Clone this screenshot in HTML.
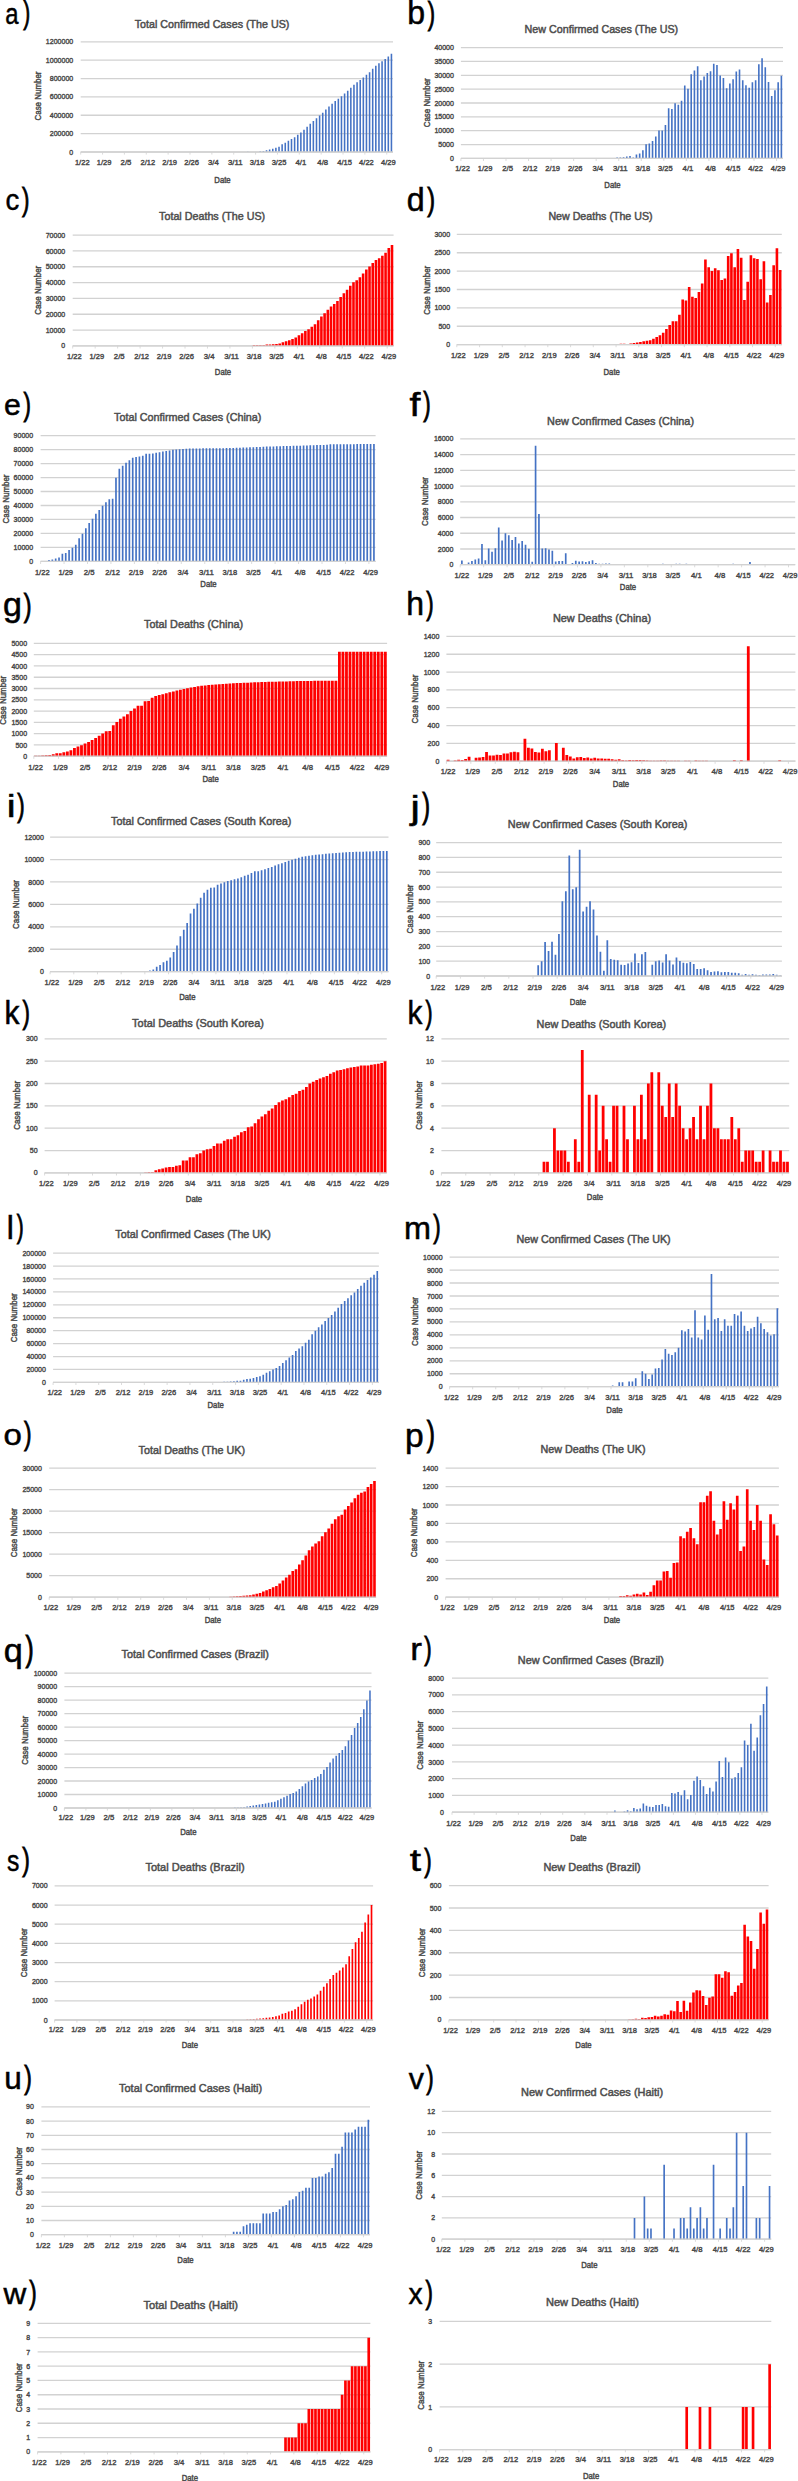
<!DOCTYPE html>
<html><head><meta charset="utf-8"><title>COVID-19 charts</title>
<style>
html,body{margin:0;padding:0;background:#fff;}
svg{display:block;}
text{font-family:"Liberation Sans",sans-serif;}
.t{font-size:8.1px;fill:#4a4a4a;stroke:#4a4a4a;stroke-width:0.42px;}
.a{font-size:8.2px;fill:#4a4a4a;stroke:#4a4a4a;stroke-width:0.42px;}
.h{font-size:11.5px;fill:#4a4a4a;stroke:#505050;stroke-width:0.5px;}
.l{font-size:31px;fill:#000;stroke:#000;stroke-width:0.5px;}
.l2{font-size:31px;fill:#000;stroke:#000;stroke-width:0.9px;}
</style></head><body>
<svg width="798" height="2481" viewBox="0 0 798 2481">
<rect width="798" height="2481" fill="#fff"/>
<path d="M80.7 152H393M80.7 133.63H393M80.7 115.27H393M80.7 96.9H393M80.7 78.53H393M80.7 60.17H393M80.7 41.8H393" stroke="#D2D2D2" stroke-width="1.3" fill="none"/>
<path d="M80.7 152v2.6M102.56 152v2.6M124.42 152v2.6M146.28 152v2.6M168.14 152v2.6M190 152v2.6M211.87 152v2.6M233.73 152v2.6M255.59 152v2.6M277.45 152v2.6M299.31 152v2.6M321.17 152v2.6M343.03 152v2.6M364.89 152v2.6M386.75 152v2.6" stroke="#D2D2D2" stroke-width="0.8" fill="none"/>
<path d="M247 152h1.56v-0.33h-1.56zM259.49 152h1.56v-0.73h-1.56zM262.61 152h1.56v-0.92h-1.56zM265.74 152h1.56v-1.84h-1.56zM268.86 152h1.56v-2.39h-1.56zM271.98 152h1.56v-3.31h-1.56zM275.11 152h1.56v-4.22h-1.56zM278.23 152h1.56v-5.33h-1.56zM281.35 152h1.56v-7.7h-1.56zM284.48 152h1.56v-9.34h-1.56zM287.6 152h1.56v-11.15h-1.56zM290.72 152h1.56v-12.94h-1.56zM293.84 152h1.56v-14.86h-1.56zM296.97 152h1.56v-17.28h-1.56zM300.09 152h1.56v-19.58h-1.56zM303.21 152h1.56v-22.37h-1.56zM306.34 152h1.56v-25.29h-1.56zM309.46 152h1.56v-28.34h-1.56zM312.58 152h1.56v-30.93h-1.56zM315.71 152h1.56v-33.64h-1.56zM318.83 152h1.56v-36.47h-1.56zM321.95 152h1.56v-39.36h-1.56zM325.07 152h1.56v-42.5h-1.56zM328.2 152h1.56v-45.6h-1.56zM331.32 152h1.56v-48.34h-1.56zM334.44 152h1.56v-51h-1.56zM337.57 152h1.56v-53.32h-1.56zM340.69 152h1.56v-55.8h-1.56zM343.81 152h1.56v-58.44h-1.56zM346.94 152h1.56v-61.33h-1.56zM350.06 152h1.56v-64.26h-1.56zM353.18 152h1.56v-67.24h-1.56zM356.3 152h1.56v-69.68h-1.56zM359.43 152h1.56v-72.03h-1.56zM362.55 152h1.56v-74.56h-1.56zM365.67 152h1.56v-77.17h-1.56zM368.8 152h1.56v-79.82h-1.56zM371.92 152h1.56v-83.14h-1.56zM375.04 152h1.56v-86.15h-1.56zM378.17 152h1.56v-88.69h-1.56zM381.29 152h1.56v-90.75h-1.56zM384.41 152h1.56v-92.99h-1.56zM387.53 152h1.56v-95.5h-1.56zM390.66 152h1.56v-98.21h-1.56z" fill="#4472C4"/>
<path d="M80.7 152H393" stroke="#D2D2D2" stroke-width="1.3" fill="none"/>
<text x="69.3" y="154.59" class="t" textLength="3.9" lengthAdjust="spacingAndGlyphs">0</text>
<text x="49.78" y="136.23" class="t" textLength="23.42" lengthAdjust="spacingAndGlyphs">200000</text>
<text x="49.78" y="117.86" class="t" textLength="23.42" lengthAdjust="spacingAndGlyphs">400000</text>
<text x="49.78" y="99.49" class="t" textLength="23.42" lengthAdjust="spacingAndGlyphs">600000</text>
<text x="49.78" y="81.13" class="t" textLength="23.42" lengthAdjust="spacingAndGlyphs">800000</text>
<text x="45.87" y="62.76" class="t" textLength="27.33" lengthAdjust="spacingAndGlyphs">1000000</text>
<text x="45.87" y="44.39" class="t" textLength="27.33" lengthAdjust="spacingAndGlyphs">1200000</text>
<text x="74.92" y="164.92" class="t" textLength="14.68" lengthAdjust="spacingAndGlyphs">1/22</text>
<text x="96.78" y="164.92" class="t" textLength="14.68" lengthAdjust="spacingAndGlyphs">1/29</text>
<text x="120.59" y="164.92" class="t" textLength="10.78" lengthAdjust="spacingAndGlyphs">2/5</text>
<text x="140.5" y="164.92" class="t" textLength="14.68" lengthAdjust="spacingAndGlyphs">2/12</text>
<text x="162.36" y="164.92" class="t" textLength="14.68" lengthAdjust="spacingAndGlyphs">2/19</text>
<text x="184.22" y="164.92" class="t" textLength="14.68" lengthAdjust="spacingAndGlyphs">2/26</text>
<text x="208.04" y="164.92" class="t" textLength="10.78" lengthAdjust="spacingAndGlyphs">3/4</text>
<text x="227.95" y="164.92" class="t" textLength="14.68" lengthAdjust="spacingAndGlyphs">3/11</text>
<text x="249.81" y="164.92" class="t" textLength="14.68" lengthAdjust="spacingAndGlyphs">3/18</text>
<text x="271.67" y="164.92" class="t" textLength="14.68" lengthAdjust="spacingAndGlyphs">3/25</text>
<text x="295.48" y="164.92" class="t" textLength="10.78" lengthAdjust="spacingAndGlyphs">4/1</text>
<text x="317.34" y="164.92" class="t" textLength="10.78" lengthAdjust="spacingAndGlyphs">4/8</text>
<text x="337.25" y="164.92" class="t" textLength="14.68" lengthAdjust="spacingAndGlyphs">4/15</text>
<text x="359.11" y="164.92" class="t" textLength="14.68" lengthAdjust="spacingAndGlyphs">4/22</text>
<text x="380.97" y="164.92" class="t" textLength="14.68" lengthAdjust="spacingAndGlyphs">4/29</text>
<text x="214.35" y="182.55" class="a" textLength="16.3" lengthAdjust="spacingAndGlyphs">Date</text>
<text transform="translate(37.6 96) rotate(-90)" x="-24.5" y="2.95" class="a" textLength="49" lengthAdjust="spacingAndGlyphs">Case Number</text>
<text x="134.7" y="28" class="h" textLength="154.7" lengthAdjust="spacingAndGlyphs">Total Confirmed Cases (The US)</text>
<text transform="translate(5.24 23.51) scale(0.7693 0.9598)" class="l">a</text>
<text transform="translate(23.28 22.81) scale(0.6692 1.0111)" class="l2">)</text>
<path d="M460.9 158.4H783M460.9 144.55H783M460.9 130.7H783M460.9 116.85H783M460.9 103H783M460.9 89.15H783M460.9 75.3H783M460.9 61.45H783M460.9 47.6H783" stroke="#D2D2D2" stroke-width="1.3" fill="none"/>
<path d="M460.9 158.4v2.6M483.45 158.4v2.6M505.99 158.4v2.6M528.54 158.4v2.6M551.09 158.4v2.6M573.63 158.4v2.6M596.18 158.4v2.6M618.73 158.4v2.6M641.28 158.4v2.6M663.82 158.4v2.6M686.37 158.4v2.6M708.92 158.4v2.6M731.46 158.4v2.6M754.01 158.4v2.6M776.56 158.4v2.6" stroke="#D2D2D2" stroke-width="0.8" fill="none"/>
<path d="M606.65 158.4h1.61v-0.33h-1.61zM613.09 158.4h1.61v-0.44h-1.61zM616.31 158.4h1.61v-0.8h-1.61zM619.53 158.4h1.61v-0.97h-1.61zM622.76 158.4h1.61v-1.25h-1.61zM625.98 158.4h1.61v-1.94h-1.61zM629.2 158.4h1.61v-2.49h-1.61zM632.42 158.4h1.61v-0.83h-1.61zM635.64 158.4h1.61v-3.88h-1.61zM638.86 158.4h1.61v-4.99h-1.61zM642.08 158.4h1.61v-8.03h-1.61zM645.3 158.4h1.61v-14.13h-1.61zM648.52 158.4h1.61v-14.96h-1.61zM651.74 158.4h1.61v-17.45h-1.61zM654.97 158.4h1.61v-21.88h-1.61zM658.19 158.4h1.61v-27.98h-1.61zM661.41 158.4h1.61v-27.98h-1.61zM664.63 158.4h1.61v-33.52h-1.61zM667.85 158.4h1.61v-50.14h-1.61zM671.07 158.4h1.61v-49.31h-1.61zM674.29 158.4h1.61v-55.12h-1.61zM677.51 158.4h1.61v-53.74h-1.61zM680.73 158.4h1.61v-57.62h-1.61zM683.95 158.4h1.61v-72.85h-1.61zM687.18 158.4h1.61v-69.53h-1.61zM690.4 158.4h1.61v-84.21h-1.61zM693.62 158.4h1.61v-87.81h-1.61zM696.84 158.4h1.61v-92.24h-1.61zM700.06 158.4h1.61v-78.11h-1.61zM703.28 158.4h1.61v-81.99h-1.61zM706.5 158.4h1.61v-85.32h-1.61zM709.72 158.4h1.61v-87.26h-1.61zM712.94 158.4h1.61v-94.73h-1.61zM716.16 158.4h1.61v-93.35h-1.61zM719.39 158.4h1.61v-82.82h-1.61zM722.61 158.4h1.61v-80.33h-1.61zM725.83 158.4h1.61v-70.08h-1.61zM729.05 158.4h1.61v-74.79h-1.61zM732.27 158.4h1.61v-79.22h-1.61zM735.49 158.4h1.61v-86.98h-1.61zM738.71 158.4h1.61v-88.92h-1.61zM741.93 158.4h1.61v-78.11h-1.61zM745.15 158.4h1.61v-73.13h-1.61zM748.37 158.4h1.61v-70.64h-1.61zM751.6 158.4h1.61v-76.18h-1.61zM754.82 158.4h1.61v-78.11h-1.61zM758.04 158.4h1.61v-94.18h-1.61zM761.26 158.4h1.61v-100.27h-1.61zM764.48 158.4h1.61v-91.13h-1.61zM767.7 158.4h1.61v-76.45h-1.61zM770.92 158.4h1.61v-62.33h-1.61zM774.14 158.4h1.61v-68.14h-1.61zM777.36 158.4h1.61v-76.18h-1.61zM780.58 158.4h1.61v-82.55h-1.61z" fill="#4472C4"/>
<path d="M460.9 158.4H783" stroke="#D2D2D2" stroke-width="1.3" fill="none"/>
<text x="450" y="160.99" class="t" textLength="3.9" lengthAdjust="spacingAndGlyphs">0</text>
<text x="438.28" y="147.14" class="t" textLength="15.62" lengthAdjust="spacingAndGlyphs">5000</text>
<text x="434.38" y="133.29" class="t" textLength="19.52" lengthAdjust="spacingAndGlyphs">10000</text>
<text x="434.38" y="119.44" class="t" textLength="19.52" lengthAdjust="spacingAndGlyphs">15000</text>
<text x="434.38" y="105.59" class="t" textLength="19.52" lengthAdjust="spacingAndGlyphs">20000</text>
<text x="434.38" y="91.74" class="t" textLength="19.52" lengthAdjust="spacingAndGlyphs">25000</text>
<text x="434.38" y="77.89" class="t" textLength="19.52" lengthAdjust="spacingAndGlyphs">30000</text>
<text x="434.38" y="64.04" class="t" textLength="19.52" lengthAdjust="spacingAndGlyphs">35000</text>
<text x="434.38" y="50.19" class="t" textLength="19.52" lengthAdjust="spacingAndGlyphs">40000</text>
<text x="455.17" y="171.32" class="t" textLength="14.68" lengthAdjust="spacingAndGlyphs">1/22</text>
<text x="477.72" y="171.32" class="t" textLength="14.68" lengthAdjust="spacingAndGlyphs">1/29</text>
<text x="502.21" y="171.32" class="t" textLength="10.78" lengthAdjust="spacingAndGlyphs">2/5</text>
<text x="522.81" y="171.32" class="t" textLength="14.68" lengthAdjust="spacingAndGlyphs">2/12</text>
<text x="545.36" y="171.32" class="t" textLength="14.68" lengthAdjust="spacingAndGlyphs">2/19</text>
<text x="567.9" y="171.32" class="t" textLength="14.68" lengthAdjust="spacingAndGlyphs">2/26</text>
<text x="592.4" y="171.32" class="t" textLength="10.78" lengthAdjust="spacingAndGlyphs">3/4</text>
<text x="613" y="171.32" class="t" textLength="14.68" lengthAdjust="spacingAndGlyphs">3/11</text>
<text x="635.54" y="171.32" class="t" textLength="14.68" lengthAdjust="spacingAndGlyphs">3/18</text>
<text x="658.09" y="171.32" class="t" textLength="14.68" lengthAdjust="spacingAndGlyphs">3/25</text>
<text x="682.59" y="171.32" class="t" textLength="10.78" lengthAdjust="spacingAndGlyphs">4/1</text>
<text x="705.14" y="171.32" class="t" textLength="10.78" lengthAdjust="spacingAndGlyphs">4/8</text>
<text x="725.73" y="171.32" class="t" textLength="14.68" lengthAdjust="spacingAndGlyphs">4/15</text>
<text x="748.28" y="171.32" class="t" textLength="14.68" lengthAdjust="spacingAndGlyphs">4/22</text>
<text x="770.83" y="171.32" class="t" textLength="14.68" lengthAdjust="spacingAndGlyphs">4/29</text>
<text x="604.35" y="188.45" class="a" textLength="16.3" lengthAdjust="spacingAndGlyphs">Date</text>
<text transform="translate(427 102.8) rotate(-90)" x="-24.5" y="2.95" class="a" textLength="49" lengthAdjust="spacingAndGlyphs">Case Number</text>
<text x="524.6" y="33.2" class="h" textLength="153.6" lengthAdjust="spacingAndGlyphs">New Confirmed Cases (The US)</text>
<text transform="translate(407.34 24.08) scale(1.0329 1.0454)" class="l">b</text>
<text transform="translate(427.67 23.53) scale(0.7057 1.0388)" class="l2">)</text>
<path d="M72.7 345.9H393.6M72.7 330.07H393.6M72.7 314.24H393.6M72.7 298.41H393.6M72.7 282.59H393.6M72.7 266.76H393.6M72.7 250.93H393.6M72.7 235.1H393.6" stroke="#D2D2D2" stroke-width="1.3" fill="none"/>
<path d="M72.7 345.9v2.6M95.16 345.9v2.6M117.63 345.9v2.6M140.09 345.9v2.6M162.55 345.9v2.6M185.02 345.9v2.6M207.48 345.9v2.6M229.94 345.9v2.6M252.4 345.9v2.6M274.87 345.9v2.6M297.33 345.9v2.6M319.79 345.9v2.6M342.26 345.9v2.6M364.72 345.9v2.6M387.18 345.9v2.6" stroke="#D2D2D2" stroke-width="0.8" fill="none"/>
<path d="M252.72 345.9h2.57v-0.87h-2.57zM255.93 345.9h2.57v-0.87h-2.57zM259.14 345.9h2.57v-0.87h-2.57zM262.35 345.9h2.57v-0.95h-2.57zM265.56 345.9h2.57v-1.5h-2.57zM268.77 345.9h2.57v-1.5h-2.57zM271.98 345.9h2.57v-1.71h-2.57zM275.19 345.9h2.57v-1.9h-2.57zM278.4 345.9h2.57v-2.5h-2.57zM281.61 345.9h2.57v-3.7h-2.57zM284.81 345.9h2.57v-4.72h-2.57zM288.02 345.9h2.57v-5.71h-2.57zM291.23 345.9h2.57v-6.92h-2.57zM294.44 345.9h2.57v-8.52h-2.57zM297.65 345.9h2.57v-10.53h-2.57zM300.86 345.9h2.57v-12.73h-2.57zM304.07 345.9h2.57v-14.94h-2.57zM307.28 345.9h2.57v-16.75h-2.57zM310.49 345.9h2.57v-19.25h-2.57zM313.7 345.9h2.57v-21.75h-2.57zM316.9 345.9h2.57v-25.56h-2.57zM320.11 345.9h2.57v-29.28h-2.57zM323.32 345.9h2.57v-32.61h-2.57zM326.53 345.9h2.57v-36.09h-2.57zM329.74 345.9h2.57v-39.41h-2.57zM332.95 345.9h2.57v-41.95h-2.57zM336.16 345.9h2.57v-44.95h-2.57zM339.37 345.9h2.57v-48.91h-2.57zM342.58 345.9h2.57v-52.71h-2.57zM345.79 345.9h2.57v-56.19h-2.57zM348.99 345.9h2.57v-60.15h-2.57zM352.2 345.9h2.57v-63.63h-2.57zM355.41 345.9h2.57v-65.69h-2.57zM358.62 345.9h2.57v-68.7h-2.57zM361.83 345.9h2.57v-72.49h-2.57zM365.04 345.9h2.57v-76.29h-2.57zM368.25 345.9h2.57v-79.46h-2.57zM371.46 345.9h2.57v-82.78h-2.57zM374.67 345.9h2.57v-85.79h-2.57zM377.88 345.9h2.57v-87.69h-2.57zM381.08 345.9h2.57v-90.22h-2.57zM384.29 345.9h2.57v-93.23h-2.57zM387.5 345.9h2.57v-97.82h-2.57zM390.71 345.9h2.57v-100.83h-2.57z" fill="#FF0000"/>
<path d="M72.7 345.9H393.6" stroke="#D2D2D2" stroke-width="1.3" fill="none"/>
<text x="61.3" y="348.49" class="t" textLength="3.9" lengthAdjust="spacingAndGlyphs">0</text>
<text x="45.68" y="332.66" class="t" textLength="19.52" lengthAdjust="spacingAndGlyphs">10000</text>
<text x="45.68" y="316.83" class="t" textLength="19.52" lengthAdjust="spacingAndGlyphs">20000</text>
<text x="45.68" y="301.01" class="t" textLength="19.52" lengthAdjust="spacingAndGlyphs">30000</text>
<text x="45.68" y="285.18" class="t" textLength="19.52" lengthAdjust="spacingAndGlyphs">40000</text>
<text x="45.68" y="269.35" class="t" textLength="19.52" lengthAdjust="spacingAndGlyphs">50000</text>
<text x="45.68" y="253.52" class="t" textLength="19.52" lengthAdjust="spacingAndGlyphs">60000</text>
<text x="45.68" y="237.69" class="t" textLength="19.52" lengthAdjust="spacingAndGlyphs">70000</text>
<text x="66.96" y="358.82" class="t" textLength="14.68" lengthAdjust="spacingAndGlyphs">1/22</text>
<text x="89.43" y="358.82" class="t" textLength="14.68" lengthAdjust="spacingAndGlyphs">1/29</text>
<text x="113.84" y="358.82" class="t" textLength="10.78" lengthAdjust="spacingAndGlyphs">2/5</text>
<text x="134.35" y="358.82" class="t" textLength="14.68" lengthAdjust="spacingAndGlyphs">2/12</text>
<text x="156.81" y="358.82" class="t" textLength="14.68" lengthAdjust="spacingAndGlyphs">2/19</text>
<text x="179.28" y="358.82" class="t" textLength="14.68" lengthAdjust="spacingAndGlyphs">2/26</text>
<text x="203.69" y="358.82" class="t" textLength="10.78" lengthAdjust="spacingAndGlyphs">3/4</text>
<text x="224.2" y="358.82" class="t" textLength="14.68" lengthAdjust="spacingAndGlyphs">3/11</text>
<text x="246.67" y="358.82" class="t" textLength="14.68" lengthAdjust="spacingAndGlyphs">3/18</text>
<text x="269.13" y="358.82" class="t" textLength="14.68" lengthAdjust="spacingAndGlyphs">3/25</text>
<text x="293.54" y="358.82" class="t" textLength="10.78" lengthAdjust="spacingAndGlyphs">4/1</text>
<text x="316.01" y="358.82" class="t" textLength="10.78" lengthAdjust="spacingAndGlyphs">4/8</text>
<text x="336.52" y="358.82" class="t" textLength="14.68" lengthAdjust="spacingAndGlyphs">4/15</text>
<text x="358.98" y="358.82" class="t" textLength="14.68" lengthAdjust="spacingAndGlyphs">4/22</text>
<text x="381.44" y="358.82" class="t" textLength="14.68" lengthAdjust="spacingAndGlyphs">4/29</text>
<text x="214.85" y="375.45" class="a" textLength="16.3" lengthAdjust="spacingAndGlyphs">Date</text>
<text transform="translate(37.6 290.3) rotate(-90)" x="-24.5" y="2.95" class="a" textLength="49" lengthAdjust="spacingAndGlyphs">Case Number</text>
<text x="159.1" y="220" class="h" textLength="106.1" lengthAdjust="spacingAndGlyphs">Total Deaths (The US)</text>
<text transform="translate(5.43 210.41) scale(0.8903 0.9598)" class="l">c</text>
<text transform="translate(21.97 209.66) scale(0.7178 1.0041)" class="l2">)</text>
<path d="M456.8 344.6H781.8M456.8 326.23H781.8M456.8 307.87H781.8M456.8 289.5H781.8M456.8 271.13H781.8M456.8 252.77H781.8M456.8 234.4H781.8" stroke="#D2D2D2" stroke-width="1.3" fill="none"/>
<path d="M456.8 344.6v2.6M479.55 344.6v2.6M502.3 344.6v2.6M525.05 344.6v2.6M547.8 344.6v2.6M570.55 344.6v2.6M593.3 344.6v2.6M616.05 344.6v2.6M638.8 344.6v2.6M661.55 344.6v2.6M684.3 344.6v2.6M707.05 344.6v2.6M729.8 344.6v2.6M752.55 344.6v2.6M775.3 344.6v2.6" stroke="#D2D2D2" stroke-width="0.8" fill="none"/>
<path d="M619.62 344.6h2.6v-0.73h-2.6zM622.88 344.6h2.6v-0.73h-2.6zM626.12 344.6h2.6v-0.51h-2.6zM629.38 344.6h2.6v-0.99h-2.6zM632.62 344.6h2.6v-1.51h-2.6zM635.88 344.6h2.6v-2.02h-2.6zM639.12 344.6h2.6v-2.5h-2.6zM642.38 344.6h2.6v-3.27h-2.6zM645.62 344.6h2.6v-3.78h-2.6zM648.88 344.6h2.6v-4.26h-2.6zM652.12 344.6h2.6v-5.8h-2.6zM655.38 344.6h2.6v-7.53h-2.6zM658.62 344.6h2.6v-9.29h-2.6zM661.88 344.6h2.6v-11.83h-2.6zM665.12 344.6h2.6v-15.61h-2.6zM668.38 344.6h2.6v-19.62h-2.6zM671.62 344.6h2.6v-23.4h-2.6zM674.88 344.6h2.6v-23.4h-2.6zM678.12 344.6h2.6v-29.94h-2.6zM681.38 344.6h2.6v-45.04h-2.6zM684.62 344.6h2.6v-44.04h-2.6zM687.88 344.6h2.6v-57.63h-2.6zM691.12 344.6h2.6v-47.83h-2.6zM694.38 344.6h2.6v-46.54h-2.6zM697.62 344.6h2.6v-52.6h-2.6zM700.88 344.6h2.6v-61.16h-2.6zM704.12 344.6h2.6v-85.04h-2.6zM707.38 344.6h2.6v-77.25h-2.6zM710.62 344.6h2.6v-73.72h-2.6zM713.88 344.6h2.6v-76.26h-2.6zM717.12 344.6h2.6v-74.24h-2.6zM720.38 344.6h2.6v-64.65h-2.6zM723.62 344.6h2.6v-66.19h-2.6zM726.88 344.6h2.6v-88.56h-2.6zM730.12 344.6h2.6v-91.36h-2.6zM733.38 344.6h2.6v-77.25h-2.6zM736.62 344.6h2.6v-95.62h-2.6zM739.88 344.6h2.6v-86.8h-2.6zM743.12 344.6h2.6v-44.52h-2.6zM746.38 344.6h2.6v-62.92h-2.6zM749.62 344.6h2.6v-89.34h-2.6zM752.88 344.6h2.6v-86.32h-2.6zM756.12 344.6h2.6v-85.55h-2.6zM759.38 344.6h2.6v-65.42h-2.6zM762.62 344.6h2.6v-83.27h-2.6zM765.88 344.6h2.6v-42.02h-2.6zM769.12 344.6h2.6v-49.55h-2.6zM772.38 344.6h2.6v-79.27h-2.6zM775.62 344.6h2.6v-96.35h-2.6zM778.88 344.6h2.6v-74.72h-2.6z" fill="#FF0000"/>
<path d="M456.8 344.6H781.8" stroke="#D2D2D2" stroke-width="1.3" fill="none"/>
<text x="446.2" y="347.19" class="t" textLength="3.9" lengthAdjust="spacingAndGlyphs">0</text>
<text x="438.39" y="328.83" class="t" textLength="11.71" lengthAdjust="spacingAndGlyphs">500</text>
<text x="434.48" y="310.46" class="t" textLength="15.62" lengthAdjust="spacingAndGlyphs">1000</text>
<text x="434.48" y="292.09" class="t" textLength="15.62" lengthAdjust="spacingAndGlyphs">1500</text>
<text x="434.48" y="273.73" class="t" textLength="15.62" lengthAdjust="spacingAndGlyphs">2000</text>
<text x="434.48" y="255.36" class="t" textLength="15.62" lengthAdjust="spacingAndGlyphs">2500</text>
<text x="434.48" y="236.99" class="t" textLength="15.62" lengthAdjust="spacingAndGlyphs">3000</text>
<text x="451.08" y="357.62" class="t" textLength="14.68" lengthAdjust="spacingAndGlyphs">1/22</text>
<text x="473.83" y="357.62" class="t" textLength="14.68" lengthAdjust="spacingAndGlyphs">1/29</text>
<text x="498.54" y="357.62" class="t" textLength="10.78" lengthAdjust="spacingAndGlyphs">2/5</text>
<text x="519.33" y="357.62" class="t" textLength="14.68" lengthAdjust="spacingAndGlyphs">2/12</text>
<text x="542.08" y="357.62" class="t" textLength="14.68" lengthAdjust="spacingAndGlyphs">2/19</text>
<text x="564.83" y="357.62" class="t" textLength="14.68" lengthAdjust="spacingAndGlyphs">2/26</text>
<text x="589.53" y="357.62" class="t" textLength="10.78" lengthAdjust="spacingAndGlyphs">3/4</text>
<text x="610.33" y="357.62" class="t" textLength="14.68" lengthAdjust="spacingAndGlyphs">3/11</text>
<text x="633.08" y="357.62" class="t" textLength="14.68" lengthAdjust="spacingAndGlyphs">3/18</text>
<text x="655.83" y="357.62" class="t" textLength="14.68" lengthAdjust="spacingAndGlyphs">3/25</text>
<text x="680.53" y="357.62" class="t" textLength="10.78" lengthAdjust="spacingAndGlyphs">4/1</text>
<text x="703.28" y="357.62" class="t" textLength="10.78" lengthAdjust="spacingAndGlyphs">4/8</text>
<text x="724.08" y="357.62" class="t" textLength="14.68" lengthAdjust="spacingAndGlyphs">4/15</text>
<text x="746.83" y="357.62" class="t" textLength="14.68" lengthAdjust="spacingAndGlyphs">4/22</text>
<text x="769.58" y="357.62" class="t" textLength="14.68" lengthAdjust="spacingAndGlyphs">4/29</text>
<text x="603.55" y="374.65" class="a" textLength="16.3" lengthAdjust="spacingAndGlyphs">Date</text>
<text transform="translate(427 290.3) rotate(-90)" x="-24.5" y="2.95" class="a" textLength="49" lengthAdjust="spacingAndGlyphs">Case Number</text>
<text x="548.4" y="219.5" class="h" textLength="104.2" lengthAdjust="spacingAndGlyphs">New Deaths (The US)</text>
<text transform="translate(406.75 210.68) scale(1.0401 1.0454)" class="l">d</text>
<text transform="translate(427.26 210.2) scale(0.7543 1.0284)" class="l2">)</text>
<path d="M40.6 561.4H375.6M40.6 547.42H375.6M40.6 533.44H375.6M40.6 519.47H375.6M40.6 505.49H375.6M40.6 491.51H375.6M40.6 477.53H375.6M40.6 463.56H375.6M40.6 449.58H375.6M40.6 435.6H375.6" stroke="#D2D2D2" stroke-width="1.3" fill="none"/>
<path d="M40.6 561.4v2.6M64.05 561.4v2.6M87.5 561.4v2.6M110.95 561.4v2.6M134.4 561.4v2.6M157.85 561.4v2.6M181.3 561.4v2.6M204.75 561.4v2.6M228.2 561.4v2.6M251.65 561.4v2.6M275.1 561.4v2.6M298.55 561.4v2.6M322 561.4v2.6M345.45 561.4v2.6M368.9 561.4v2.6" stroke="#D2D2D2" stroke-width="0.8" fill="none"/>
<path d="M48.14 561.4h1.68v-1.29h-1.68zM51.49 561.4h1.68v-1.97h-1.68zM54.84 561.4h1.68v-2.9h-1.68zM58.19 561.4h1.68v-4.02h-1.68zM61.54 561.4h1.68v-7.7h-1.68zM64.89 561.4h1.68v-8.51h-1.68zM68.24 561.4h1.68v-11.38h-1.68zM71.59 561.4h1.68v-13.7h-1.68zM74.94 561.4h1.68v-16.62h-1.68zM78.29 561.4h1.68v-23.25h-1.68zM81.64 561.4h1.68v-27.56h-1.68zM84.99 561.4h1.68v-33.14h-1.68zM88.34 561.4h1.68v-38.36h-1.68zM91.69 561.4h1.68v-42.75h-1.68zM95.04 561.4h1.68v-47.68h-1.68zM98.39 561.4h1.68v-51.46h-1.68zM101.74 561.4h1.68v-55.67h-1.68zM105.09 561.4h1.68v-59.2h-1.68zM108.44 561.4h1.68v-62.04h-1.68zM111.79 561.4h1.68v-62.56h-1.68zM115.14 561.4h1.68v-83.72h-1.68zM118.49 561.4h1.68v-92.75h-1.68zM121.84 561.4h1.68v-95.63h-1.68zM125.19 561.4h1.68v-98.56h-1.68zM128.54 561.4h1.68v-101.25h-1.68zM131.89 561.4h1.68v-103.73h-1.68zM135.24 561.4h1.68v-104.3h-1.68zM138.59 561.4h1.68v-104.94h-1.68zM141.94 561.4h1.68v-105.6h-1.68zM145.29 561.4h1.68v-107.63h-1.68zM148.64 561.4h1.68v-107.66h-1.68zM151.99 561.4h1.68v-107.97h-1.68zM155.34 561.4h1.68v-108.68h-1.68zM158.69 561.4h1.68v-109.26h-1.68zM162.04 561.4h1.68v-109.87h-1.68zM165.39 561.4h1.68v-110.32h-1.68zM168.74 561.4h1.68v-110.92h-1.68zM172.09 561.4h1.68v-111.73h-1.68zM175.44 561.4h1.68v-112.01h-1.68zM178.79 561.4h1.68v-112.19h-1.68zM182.14 561.4h1.68v-112.36h-1.68zM185.49 561.4h1.68v-112.57h-1.68zM188.84 561.4h1.68v-112.79h-1.68zM192.19 561.4h1.68v-112.9h-1.68zM195.54 561.4h1.68v-112.97h-1.68zM198.89 561.4h1.68v-113.02h-1.68zM202.24 561.4h1.68v-113.06h-1.68zM205.59 561.4h1.68v-113.11h-1.68zM208.94 561.4h1.68v-113.12h-1.68zM212.29 561.4h1.68v-113.14h-1.68zM215.64 561.4h1.68v-113.19h-1.68zM218.99 561.4h1.68v-113.22h-1.68zM222.34 561.4h1.68v-113.27h-1.68zM225.69 561.4h1.68v-113.3h-1.68zM229.04 561.4h1.68v-113.36h-1.68zM232.39 561.4h1.68v-113.44h-1.68zM235.74 561.4h1.68v-113.57h-1.68zM239.09 561.4h1.68v-113.65h-1.68zM242.44 561.4h1.68v-113.83h-1.68zM245.79 561.4h1.68v-113.92h-1.68zM249.14 561.4h1.68v-114.05h-1.68zM252.49 561.4h1.68v-114.14h-1.68zM255.84 561.4h1.68v-114.31h-1.68zM259.19 561.4h1.68v-114.47h-1.68zM262.54 561.4h1.68v-114.62h-1.68zM265.89 561.4h1.68v-114.79h-1.68zM269.24 561.4h1.68v-114.89h-1.68zM272.59 561.4h1.68v-115.01h-1.68zM275.94 561.4h1.68v-115.12h-1.68zM279.29 561.4h1.68v-115.22h-1.68zM282.64 561.4h1.68v-115.33h-1.68zM285.99 561.4h1.68v-115.38h-1.68zM289.34 561.4h1.68v-115.46h-1.68zM292.69 561.4h1.68v-115.55h-1.68zM296.04 561.4h1.68v-115.62h-1.68zM299.39 561.4h1.68v-115.75h-1.68zM302.74 561.4h1.68v-115.85h-1.68zM306.09 561.4h1.68v-115.93h-1.68zM309.44 561.4h1.68v-116.04h-1.68zM312.79 561.4h1.68v-116.2h-1.68zM316.14 561.4h1.68v-116.31h-1.68zM319.49 561.4h1.68v-116.44h-1.68zM322.84 561.4h1.68v-116.51h-1.68zM326.19 561.4h1.68v-116.58h-1.68zM329.54 561.4h1.68v-117.08h-1.68zM332.89 561.4h1.68v-117.12h-1.68zM336.24 561.4h1.68v-117.14h-1.68zM339.59 561.4h1.68v-117.16h-1.68zM342.94 561.4h1.68v-117.21h-1.68zM346.29 561.4h1.68v-117.23h-1.68zM349.64 561.4h1.68v-117.25h-1.68zM352.99 561.4h1.68v-117.27h-1.68zM356.34 561.4h1.68v-117.29h-1.68zM359.69 561.4h1.68v-117.29h-1.68zM363.04 561.4h1.68v-117.3h-1.68zM366.39 561.4h1.68v-117.33h-1.68zM369.74 561.4h1.68v-117.34h-1.68zM373.09 561.4h1.68v-117.35h-1.68z" fill="#4472C4"/>
<path d="M40.6 561.4H375.6" stroke="#D2D2D2" stroke-width="1.3" fill="none"/>
<text x="29.2" y="563.99" class="t" textLength="3.9" lengthAdjust="spacingAndGlyphs">0</text>
<text x="13.58" y="550.01" class="t" textLength="19.52" lengthAdjust="spacingAndGlyphs">10000</text>
<text x="13.58" y="536.04" class="t" textLength="19.52" lengthAdjust="spacingAndGlyphs">20000</text>
<text x="13.58" y="522.06" class="t" textLength="19.52" lengthAdjust="spacingAndGlyphs">30000</text>
<text x="13.58" y="508.08" class="t" textLength="19.52" lengthAdjust="spacingAndGlyphs">40000</text>
<text x="13.58" y="494.1" class="t" textLength="19.52" lengthAdjust="spacingAndGlyphs">50000</text>
<text x="13.58" y="480.13" class="t" textLength="19.52" lengthAdjust="spacingAndGlyphs">60000</text>
<text x="13.58" y="466.15" class="t" textLength="19.52" lengthAdjust="spacingAndGlyphs">70000</text>
<text x="13.58" y="452.17" class="t" textLength="19.52" lengthAdjust="spacingAndGlyphs">80000</text>
<text x="13.58" y="438.19" class="t" textLength="19.52" lengthAdjust="spacingAndGlyphs">90000</text>
<text x="34.93" y="574.62" class="t" textLength="14.68" lengthAdjust="spacingAndGlyphs">1/22</text>
<text x="58.38" y="574.62" class="t" textLength="14.68" lengthAdjust="spacingAndGlyphs">1/29</text>
<text x="83.79" y="574.62" class="t" textLength="10.78" lengthAdjust="spacingAndGlyphs">2/5</text>
<text x="105.28" y="574.62" class="t" textLength="14.68" lengthAdjust="spacingAndGlyphs">2/12</text>
<text x="128.73" y="574.62" class="t" textLength="14.68" lengthAdjust="spacingAndGlyphs">2/19</text>
<text x="152.18" y="574.62" class="t" textLength="14.68" lengthAdjust="spacingAndGlyphs">2/26</text>
<text x="177.59" y="574.62" class="t" textLength="10.78" lengthAdjust="spacingAndGlyphs">3/4</text>
<text x="199.08" y="574.62" class="t" textLength="14.68" lengthAdjust="spacingAndGlyphs">3/11</text>
<text x="222.53" y="574.62" class="t" textLength="14.68" lengthAdjust="spacingAndGlyphs">3/18</text>
<text x="245.98" y="574.62" class="t" textLength="14.68" lengthAdjust="spacingAndGlyphs">3/25</text>
<text x="271.39" y="574.62" class="t" textLength="10.78" lengthAdjust="spacingAndGlyphs">4/1</text>
<text x="294.84" y="574.62" class="t" textLength="10.78" lengthAdjust="spacingAndGlyphs">4/8</text>
<text x="316.33" y="574.62" class="t" textLength="14.68" lengthAdjust="spacingAndGlyphs">4/15</text>
<text x="339.78" y="574.62" class="t" textLength="14.68" lengthAdjust="spacingAndGlyphs">4/22</text>
<text x="363.23" y="574.62" class="t" textLength="14.68" lengthAdjust="spacingAndGlyphs">4/29</text>
<text x="200.35" y="587.15" class="a" textLength="16.3" lengthAdjust="spacingAndGlyphs">Date</text>
<text transform="translate(6.3 499) rotate(-90)" x="-24.5" y="2.95" class="a" textLength="49" lengthAdjust="spacingAndGlyphs">Case Number</text>
<text x="114" y="420.8" class="h" textLength="147.4" lengthAdjust="spacingAndGlyphs">Total Confirmed Cases (China)</text>
<text transform="translate(4.11 415.11) scale(0.9762 0.9598)" class="l">e</text>
<text transform="translate(23.47 414.5) scale(0.7178 1.0284)" class="l2">)</text>
<path d="M460.2 564.7H795.2M460.2 548.98H795.2M460.2 533.25H795.2M460.2 517.52H795.2M460.2 501.8H795.2M460.2 486.07H795.2M460.2 470.35H795.2M460.2 454.62H795.2M460.2 438.9H795.2" stroke="#D2D2D2" stroke-width="1.3" fill="none"/>
<path d="M460.2 564.7v2.6M483.65 564.7v2.6M507.1 564.7v2.6M530.55 564.7v2.6M554 564.7v2.6M577.45 564.7v2.6M600.9 564.7v2.6M624.35 564.7v2.6M647.8 564.7v2.6M671.25 564.7v2.6M694.7 564.7v2.6M718.15 564.7v2.6M741.6 564.7v2.6M765.05 564.7v2.6M788.5 564.7v2.6" stroke="#D2D2D2" stroke-width="0.8" fill="none"/>
<path d="M461.04 564.7h1.68v-4.31h-1.68zM464.39 564.7h1.68v-0.75h-1.68zM467.74 564.7h1.68v-2.18h-1.68zM471.09 564.7h1.68v-3.82h-1.68zM474.44 564.7h1.68v-5.26h-1.68zM477.79 564.7h1.68v-6.31h-1.68zM481.14 564.7h1.68v-20.69h-1.68zM484.49 564.7h1.68v-4.54h-1.68zM487.84 564.7h1.68v-16.15h-1.68zM491.19 564.7h1.68v-13.06h-1.68zM494.54 564.7h1.68v-16.42h-1.68zM497.89 564.7h1.68v-37.26h-1.68zM501.24 564.7h1.68v-24.26h-1.68zM504.59 564.7h1.68v-31.38h-1.68zM507.94 564.7h1.68v-29.35h-1.68zM511.29 564.7h1.68v-24.74h-1.68zM514.64 564.7h1.68v-27.7h-1.68zM517.99 564.7h1.68v-21.26h-1.68zM521.34 564.7h1.68v-23.71h-1.68zM524.69 564.7h1.68v-19.85h-1.68zM528.04 564.7h1.68v-15.98h-1.68zM531.39 564.7h1.68v-2.93h-1.68zM534.74 564.7h1.68v-119.01h-1.68zM538.09 564.7h1.68v-50.82h-1.68zM541.44 564.7h1.68v-16.16h-1.68zM544.79 564.7h1.68v-16.51h-1.68zM548.14 564.7h1.68v-15.1h-1.68zM551.49 564.7h1.68v-13.97h-1.68zM554.84 564.7h1.68v-3.21h-1.68zM558.19 564.7h1.68v-3.6h-1.68zM561.54 564.7h1.68v-3.72h-1.68zM564.89 564.7h1.68v-11.41h-1.68zM571.59 564.7h1.68v-1.72h-1.68zM574.94 564.7h1.68v-4.03h-1.68zM578.29 564.7h1.68v-3.24h-1.68zM581.64 564.7h1.68v-3.41h-1.68zM584.99 564.7h1.68v-2.58h-1.68zM588.34 564.7h1.68v-3.37h-1.68zM591.69 564.7h1.68v-4.53h-1.68zM595.04 564.7h1.68v-1.6h-1.68zM598.39 564.7h1.68v-0.98h-1.68zM601.74 564.7h1.68v-0.98h-1.68zM605.09 564.7h1.68v-1.19h-1.68zM608.44 564.7h1.68v-1.2h-1.68zM611.79 564.7h1.68v-0.63h-1.68zM615.14 564.7h1.68v-0.42h-1.68zM648.64 564.7h1.68v-0.35h-1.68zM651.99 564.7h1.68v-0.42h-1.68zM655.34 564.7h1.68v-0.74h-1.68zM658.69 564.7h1.68v-0.43h-1.68zM662.04 564.7h1.68v-1.02h-1.68zM665.39 564.7h1.68v-0.5h-1.68zM668.74 564.7h1.68v-0.73h-1.68zM672.09 564.7h1.68v-0.55h-1.68zM675.44 564.7h1.68v-0.95h-1.68zM678.79 564.7h1.68v-0.9h-1.68zM682.14 564.7h1.68v-0.8h-1.68zM685.49 564.7h1.68v-0.97h-1.68zM688.84 564.7h1.68v-0.6h-1.68zM692.19 564.7h1.68v-0.64h-1.68zM695.54 564.7h1.68v-0.64h-1.68zM698.89 564.7h1.68v-0.56h-1.68zM702.24 564.7h1.68v-0.62h-1.68zM708.94 564.7h1.68v-0.46h-1.68zM712.29 564.7h1.68v-0.5h-1.68zM715.64 564.7h1.68v-0.42h-1.68zM718.99 564.7h1.68v-0.72h-1.68zM722.34 564.7h1.68v-0.58h-1.68zM725.69 564.7h1.68v-0.46h-1.68zM729.04 564.7h1.68v-0.57h-1.68zM732.39 564.7h1.68v-0.94h-1.68zM735.74 564.7h1.68v-0.62h-1.68zM739.09 564.7h1.68v-0.73h-1.68zM742.44 564.7h1.68v-0.39h-1.68zM745.79 564.7h1.68v-0.37h-1.68zM749.14 564.7h1.68v-2.81h-1.68z" fill="#4472C4"/>
<path d="M460.2 564.7H795.2" stroke="#D2D2D2" stroke-width="1.3" fill="none"/>
<text x="449.5" y="567.29" class="t" textLength="3.9" lengthAdjust="spacingAndGlyphs">0</text>
<text x="437.78" y="551.57" class="t" textLength="15.62" lengthAdjust="spacingAndGlyphs">2000</text>
<text x="437.78" y="535.84" class="t" textLength="15.62" lengthAdjust="spacingAndGlyphs">4000</text>
<text x="437.78" y="520.12" class="t" textLength="15.62" lengthAdjust="spacingAndGlyphs">6000</text>
<text x="437.78" y="504.39" class="t" textLength="15.62" lengthAdjust="spacingAndGlyphs">8000</text>
<text x="433.88" y="488.67" class="t" textLength="19.52" lengthAdjust="spacingAndGlyphs">10000</text>
<text x="433.88" y="472.94" class="t" textLength="19.52" lengthAdjust="spacingAndGlyphs">12000</text>
<text x="433.88" y="457.22" class="t" textLength="19.52" lengthAdjust="spacingAndGlyphs">14000</text>
<text x="433.88" y="441.49" class="t" textLength="19.52" lengthAdjust="spacingAndGlyphs">16000</text>
<text x="454.53" y="578.42" class="t" textLength="14.68" lengthAdjust="spacingAndGlyphs">1/22</text>
<text x="477.98" y="578.42" class="t" textLength="14.68" lengthAdjust="spacingAndGlyphs">1/29</text>
<text x="503.38" y="578.42" class="t" textLength="10.78" lengthAdjust="spacingAndGlyphs">2/5</text>
<text x="524.88" y="578.42" class="t" textLength="14.68" lengthAdjust="spacingAndGlyphs">2/12</text>
<text x="548.33" y="578.42" class="t" textLength="14.68" lengthAdjust="spacingAndGlyphs">2/19</text>
<text x="571.78" y="578.42" class="t" textLength="14.68" lengthAdjust="spacingAndGlyphs">2/26</text>
<text x="597.19" y="578.42" class="t" textLength="10.78" lengthAdjust="spacingAndGlyphs">3/4</text>
<text x="618.68" y="578.42" class="t" textLength="14.68" lengthAdjust="spacingAndGlyphs">3/11</text>
<text x="642.13" y="578.42" class="t" textLength="14.68" lengthAdjust="spacingAndGlyphs">3/18</text>
<text x="665.58" y="578.42" class="t" textLength="14.68" lengthAdjust="spacingAndGlyphs">3/25</text>
<text x="690.99" y="578.42" class="t" textLength="10.78" lengthAdjust="spacingAndGlyphs">4/1</text>
<text x="714.44" y="578.42" class="t" textLength="10.78" lengthAdjust="spacingAndGlyphs">4/8</text>
<text x="735.93" y="578.42" class="t" textLength="14.68" lengthAdjust="spacingAndGlyphs">4/15</text>
<text x="759.38" y="578.42" class="t" textLength="14.68" lengthAdjust="spacingAndGlyphs">4/22</text>
<text x="782.83" y="578.42" class="t" textLength="14.68" lengthAdjust="spacingAndGlyphs">4/29</text>
<text x="619.85" y="590.45" class="a" textLength="16.3" lengthAdjust="spacingAndGlyphs">Date</text>
<text transform="translate(425 501.5) rotate(-90)" x="-24.5" y="2.95" class="a" textLength="49" lengthAdjust="spacingAndGlyphs">Case Number</text>
<text x="547.1" y="424.5" class="h" textLength="146.9" lengthAdjust="spacingAndGlyphs">New Confirmed Cases (China)</text>
<text transform="translate(409.44 415.7) scale(1.2653 1.0743)" class="l">f</text>
<text transform="translate(423.27 415.04) scale(0.7178 1.0526)" class="l2">)</text>
<path d="M33.8 756.2H387.1M33.8 744.92H387.1M33.8 733.64H387.1M33.8 722.36H387.1M33.8 711.08H387.1M33.8 699.8H387.1M33.8 688.52H387.1M33.8 677.24H387.1M33.8 665.96H387.1M33.8 654.68H387.1M33.8 643.4H387.1" stroke="#D2D2D2" stroke-width="1.3" fill="none"/>
<path d="M33.8 756.2v2.6M58.53 756.2v2.6M83.26 756.2v2.6M107.99 756.2v2.6M132.72 756.2v2.6M157.45 756.2v2.6M182.19 756.2v2.6M206.92 756.2v2.6M231.65 756.2v2.6M256.38 756.2v2.6M281.11 756.2v2.6M305.84 756.2v2.6M330.57 756.2v2.6M355.3 756.2v2.6M380.03 756.2v2.6" stroke="#D2D2D2" stroke-width="0.8" fill="none"/>
<path d="M34.15 756.2h2.83v-0.38h-2.83zM37.69 756.2h2.83v-0.41h-2.83zM41.22 756.2h2.83v-0.59h-2.83zM44.75 756.2h2.83v-0.95h-2.83zM48.29 756.2h2.83v-1.26h-2.83zM51.82 756.2h2.83v-1.85h-2.83zM55.35 756.2h2.83v-2.96h-2.83zM58.88 756.2h2.83v-3h-2.83zM62.42 756.2h2.83v-3.86h-2.83zM65.95 756.2h2.83v-4.81h-2.83zM69.48 756.2h2.83v-5.84h-2.83zM73.02 756.2h2.83v-8.14h-2.83zM76.55 756.2h2.83v-9.59h-2.83zM80.08 756.2h2.83v-11.05h-2.83zM83.62 756.2h2.83v-12.68h-2.83zM87.15 756.2h2.83v-14.26h-2.83zM90.68 756.2h2.83v-16.18h-2.83zM94.21 756.2h2.83v-18.14h-2.83zM97.75 756.2h2.83v-20.39h-2.83zM101.28 756.2h2.83v-22.81h-2.83zM104.81 756.2h2.83v-25.06h-2.83zM108.35 756.2h2.83v-25.18h-2.83zM111.88 756.2h2.83v-30.86h-2.83zM115.41 756.2h2.83v-34.29h-2.83zM118.95 756.2h2.83v-37.49h-2.83zM122.48 756.2h2.83v-39.82h-2.83zM126.01 756.2h2.83v-42.03h-2.83zM129.54 756.2h2.83v-45.17h-2.83zM133.08 756.2h2.83v-47.69h-2.83zM136.61 756.2h2.83v-50.44h-2.83zM140.14 756.2h2.83v-50.44h-2.83zM143.68 756.2h2.83v-55.07h-2.83zM147.21 756.2h2.83v-55.11h-2.83zM150.74 756.2h2.83v-58.5h-2.83zM154.28 756.2h2.83v-60.08h-2.83zM157.81 756.2h2.83v-61.25h-2.83zM161.34 756.2h2.83v-61.9h-2.83zM164.87 756.2h2.83v-62.9h-2.83zM168.41 756.2h2.83v-63.96h-2.83zM171.94 756.2h2.83v-64.75h-2.83zM175.47 756.2h2.83v-65.69h-2.83zM179.01 756.2h2.83v-66.39h-2.83zM182.54 756.2h2.83v-67.25h-2.83zM186.07 756.2h2.83v-67.95h-2.83zM189.61 756.2h2.83v-68.63h-2.83zM193.14 756.2h2.83v-69.26h-2.83zM196.67 756.2h2.83v-69.87h-2.83zM200.2 756.2h2.83v-70.36h-2.83zM203.74 756.2h2.83v-70.75h-2.83zM207.27 756.2h2.83v-71.24h-2.83zM210.8 756.2h2.83v-71.49h-2.83zM214.34 756.2h2.83v-71.65h-2.83zM217.87 756.2h2.83v-71.94h-2.83zM221.4 756.2h2.83v-72.17h-2.83zM224.94 756.2h2.83v-72.49h-2.83zM228.47 756.2h2.83v-72.78h-2.83zM232 756.2h2.83v-73.03h-2.83zM235.53 756.2h2.83v-73.21h-2.83zM239.07 756.2h2.83v-73.3h-2.83zM242.6 756.2h2.83v-73.43h-2.83zM246.13 756.2h2.83v-73.57h-2.83zM249.67 756.2h2.83v-73.77h-2.83zM253.2 756.2h2.83v-73.93h-2.83zM256.73 756.2h2.83v-74.02h-2.83zM260.27 756.2h2.83v-74.11h-2.83zM263.8 756.2h2.83v-74.24h-2.83zM267.33 756.2h2.83v-74.36h-2.83zM270.86 756.2h2.83v-74.43h-2.83zM274.4 756.2h2.83v-74.54h-2.83zM277.93 756.2h2.83v-74.63h-2.83zM281.46 756.2h2.83v-74.65h-2.83zM285 756.2h2.83v-74.81h-2.83zM288.53 756.2h2.83v-74.94h-2.83zM292.06 756.2h2.83v-75.03h-2.83zM295.6 756.2h2.83v-75.12h-2.83zM299.13 756.2h2.83v-75.15h-2.83zM302.66 756.2h2.83v-75.19h-2.83zM306.19 756.2h2.83v-75.24h-2.83zM309.73 756.2h2.83v-75.26h-2.83zM313.26 756.2h2.83v-75.33h-2.83zM316.79 756.2h2.83v-75.33h-2.83zM320.33 756.2h2.83v-75.37h-2.83zM323.86 756.2h2.83v-75.37h-2.83zM327.39 756.2h2.83v-75.4h-2.83zM330.93 756.2h2.83v-75.4h-2.83zM334.46 756.2h2.83v-75.4h-2.83zM337.99 756.2h2.83v-104.5h-2.83zM341.52 756.2h2.83v-104.5h-2.83zM345.06 756.2h2.83v-104.5h-2.83zM348.59 756.2h2.83v-104.5h-2.83zM352.12 756.2h2.83v-104.5h-2.83zM355.66 756.2h2.83v-104.5h-2.83zM359.19 756.2h2.83v-104.5h-2.83zM362.72 756.2h2.83v-104.5h-2.83zM366.26 756.2h2.83v-104.5h-2.83zM369.79 756.2h2.83v-104.52h-2.83zM373.32 756.2h2.83v-104.52h-2.83zM376.85 756.2h2.83v-104.52h-2.83zM380.39 756.2h2.83v-104.52h-2.83zM383.92 756.2h2.83v-104.52h-2.83z" fill="#FF0000"/>
<path d="M33.8 756.2H387.1" stroke="#D2D2D2" stroke-width="1.3" fill="none"/>
<text x="23.2" y="758.79" class="t" textLength="3.9" lengthAdjust="spacingAndGlyphs">0</text>
<text x="15.39" y="747.51" class="t" textLength="11.71" lengthAdjust="spacingAndGlyphs">500</text>
<text x="11.48" y="736.23" class="t" textLength="15.62" lengthAdjust="spacingAndGlyphs">1000</text>
<text x="11.48" y="724.95" class="t" textLength="15.62" lengthAdjust="spacingAndGlyphs">1500</text>
<text x="11.48" y="713.67" class="t" textLength="15.62" lengthAdjust="spacingAndGlyphs">2000</text>
<text x="11.48" y="702.39" class="t" textLength="15.62" lengthAdjust="spacingAndGlyphs">2500</text>
<text x="11.48" y="691.11" class="t" textLength="15.62" lengthAdjust="spacingAndGlyphs">3000</text>
<text x="11.48" y="679.83" class="t" textLength="15.62" lengthAdjust="spacingAndGlyphs">3500</text>
<text x="11.48" y="668.55" class="t" textLength="15.62" lengthAdjust="spacingAndGlyphs">4000</text>
<text x="11.48" y="657.27" class="t" textLength="15.62" lengthAdjust="spacingAndGlyphs">4500</text>
<text x="11.48" y="645.99" class="t" textLength="15.62" lengthAdjust="spacingAndGlyphs">5000</text>
<text x="28.22" y="769.62" class="t" textLength="14.68" lengthAdjust="spacingAndGlyphs">1/22</text>
<text x="52.96" y="769.62" class="t" textLength="14.68" lengthAdjust="spacingAndGlyphs">1/29</text>
<text x="79.64" y="769.62" class="t" textLength="10.78" lengthAdjust="spacingAndGlyphs">2/5</text>
<text x="102.42" y="769.62" class="t" textLength="14.68" lengthAdjust="spacingAndGlyphs">2/12</text>
<text x="127.15" y="769.62" class="t" textLength="14.68" lengthAdjust="spacingAndGlyphs">2/19</text>
<text x="151.88" y="769.62" class="t" textLength="14.68" lengthAdjust="spacingAndGlyphs">2/26</text>
<text x="178.56" y="769.62" class="t" textLength="10.78" lengthAdjust="spacingAndGlyphs">3/4</text>
<text x="201.34" y="769.62" class="t" textLength="14.68" lengthAdjust="spacingAndGlyphs">3/11</text>
<text x="226.07" y="769.62" class="t" textLength="14.68" lengthAdjust="spacingAndGlyphs">3/18</text>
<text x="250.8" y="769.62" class="t" textLength="14.68" lengthAdjust="spacingAndGlyphs">3/25</text>
<text x="277.49" y="769.62" class="t" textLength="10.78" lengthAdjust="spacingAndGlyphs">4/1</text>
<text x="302.22" y="769.62" class="t" textLength="10.78" lengthAdjust="spacingAndGlyphs">4/8</text>
<text x="325" y="769.62" class="t" textLength="14.68" lengthAdjust="spacingAndGlyphs">4/15</text>
<text x="349.73" y="769.62" class="t" textLength="14.68" lengthAdjust="spacingAndGlyphs">4/22</text>
<text x="374.46" y="769.62" class="t" textLength="14.68" lengthAdjust="spacingAndGlyphs">4/29</text>
<text x="202.45" y="782.15" class="a" textLength="16.3" lengthAdjust="spacingAndGlyphs">Date</text>
<text transform="translate(3.2 700.3) rotate(-90)" x="-24.5" y="2.95" class="a" textLength="49" lengthAdjust="spacingAndGlyphs">Case Number</text>
<text x="144.1" y="628.3" class="h" textLength="99" lengthAdjust="spacingAndGlyphs">Total Deaths (China)</text>
<text transform="translate(2.97 616.4) scale(1.0975 1.0577)" class="l">g</text>
<text transform="translate(23.86 616.14) scale(0.7543 1.0214)" class="l2">)</text>
<path d="M446.4 761.2H795.4M446.4 743.37H795.4M446.4 725.54H795.4M446.4 707.71H795.4M446.4 689.89H795.4M446.4 672.06H795.4M446.4 654.23H795.4M446.4 636.4H795.4" stroke="#D2D2D2" stroke-width="1.3" fill="none"/>
<path d="M446.4 761.2v2.6M470.83 761.2v2.6M495.26 761.2v2.6M519.69 761.2v2.6M544.12 761.2v2.6M568.55 761.2v2.6M592.98 761.2v2.6M617.41 761.2v2.6M641.84 761.2v2.6M666.27 761.2v2.6M690.7 761.2v2.6M715.13 761.2v2.6M739.56 761.2v2.6M763.99 761.2v2.6M788.42 761.2v2.6" stroke="#D2D2D2" stroke-width="0.8" fill="none"/>
<path d="M446.75 761.2h2.79v-1.52h-2.79zM453.73 761.2h2.79v-0.71h-2.79zM457.22 761.2h2.79v-1.43h-2.79zM460.71 761.2h2.79v-1.25h-2.79zM464.2 761.2h2.79v-2.32h-2.79zM467.69 761.2h2.79v-4.37h-2.79zM474.67 761.2h2.79v-3.39h-2.79zM478.16 761.2h2.79v-3.74h-2.79zM481.65 761.2h2.79v-4.1h-2.79zM485.14 761.2h2.79v-9.09h-2.79zM488.63 761.2h2.79v-5.71h-2.79zM492.12 761.2h2.79v-5.79h-2.79zM495.61 761.2h2.79v-6.42h-2.79zM499.1 761.2h2.79v-6.24h-2.79zM502.59 761.2h2.79v-7.58h-2.79zM506.08 761.2h2.79v-7.76h-2.79zM509.57 761.2h2.79v-8.91h-2.79zM513.06 761.2h2.79v-9.54h-2.79zM516.55 761.2h2.79v-8.91h-2.79zM520.04 761.2h2.79v-0.45h-2.79zM523.53 761.2h2.79v-22.46h-2.79zM527.02 761.2h2.79v-13.55h-2.79zM530.51 761.2h2.79v-12.66h-2.79zM534 761.2h2.79v-9.18h-2.79zM537.49 761.2h2.79v-8.74h-2.79zM540.98 761.2h2.79v-12.39h-2.79zM544.47 761.2h2.79v-9.98h-2.79zM547.96 761.2h2.79v-10.88h-2.79zM554.94 761.2h2.79v-18.27h-2.79zM561.92 761.2h2.79v-13.37h-2.79zM565.41 761.2h2.79v-6.24h-2.79zM568.9 761.2h2.79v-4.64h-2.79zM572.39 761.2h2.79v-2.59h-2.79zM575.88 761.2h2.79v-3.92h-2.79zM579.37 761.2h2.79v-4.19h-2.79zM582.86 761.2h2.79v-3.12h-2.79zM586.35 761.2h2.79v-3.74h-2.79zM589.84 761.2h2.79v-2.76h-2.79zM593.33 761.2h2.79v-3.39h-2.79zM596.82 761.2h2.79v-2.76h-2.79zM600.31 761.2h2.79v-2.67h-2.79zM603.8 761.2h2.79v-2.5h-2.79zM607.29 761.2h2.79v-2.41h-2.79zM610.78 761.2h2.79v-1.96h-2.79zM614.27 761.2h2.79v-1.52h-2.79zM617.76 761.2h2.79v-1.96h-2.79zM621.25 761.2h2.79v-0.98h-2.79zM624.74 761.2h2.79v-0.62h-2.79zM628.23 761.2h2.79v-1.16h-2.79zM631.72 761.2h2.79v-0.89h-2.79zM635.21 761.2h2.79v-1.25h-2.79zM638.7 761.2h2.79v-1.16h-2.79zM642.19 761.2h2.79v-0.98h-2.79zM645.68 761.2h2.79v-0.71h-2.79zM649.17 761.2h2.79v-0.36h-2.79zM652.66 761.2h2.79v-0.53h-2.79zM656.15 761.2h2.79v-0.53h-2.79zM659.64 761.2h2.79v-0.8h-2.79zM663.13 761.2h2.79v-0.62h-2.79zM666.62 761.2h2.79v-0.36h-2.79zM670.11 761.2h2.79v-0.36h-2.79zM673.6 761.2h2.79v-0.53h-2.79zM677.09 761.2h2.79v-0.45h-2.79zM684.07 761.2h2.79v-0.45h-2.79zM687.56 761.2h2.79v-0.36h-2.79zM694.54 761.2h2.79v-0.62h-2.79zM698.03 761.2h2.79v-0.53h-2.79zM701.52 761.2h2.79v-0.36h-2.79zM705.01 761.2h2.79v-0.36h-2.79zM732.93 761.2h2.79v-1.07h-2.79zM739.91 761.2h2.79v-1.07h-2.79zM746.89 761.2h2.79v-114.99h-2.79zM778.3 761.2h2.79v-1.07h-2.79z" fill="#FF0000"/>
<path d="M446.4 761.2H795.4" stroke="#D2D2D2" stroke-width="1.3" fill="none"/>
<text x="435.4" y="763.79" class="t" textLength="3.9" lengthAdjust="spacingAndGlyphs">0</text>
<text x="427.59" y="745.96" class="t" textLength="11.71" lengthAdjust="spacingAndGlyphs">200</text>
<text x="427.59" y="728.13" class="t" textLength="11.71" lengthAdjust="spacingAndGlyphs">400</text>
<text x="427.59" y="710.31" class="t" textLength="11.71" lengthAdjust="spacingAndGlyphs">600</text>
<text x="427.59" y="692.48" class="t" textLength="11.71" lengthAdjust="spacingAndGlyphs">800</text>
<text x="423.68" y="674.65" class="t" textLength="15.62" lengthAdjust="spacingAndGlyphs">1000</text>
<text x="423.68" y="656.82" class="t" textLength="15.62" lengthAdjust="spacingAndGlyphs">1200</text>
<text x="423.68" y="638.99" class="t" textLength="15.62" lengthAdjust="spacingAndGlyphs">1400</text>
<text x="440.8" y="773.92" class="t" textLength="14.68" lengthAdjust="spacingAndGlyphs">1/22</text>
<text x="465.23" y="773.92" class="t" textLength="14.68" lengthAdjust="spacingAndGlyphs">1/29</text>
<text x="491.62" y="773.92" class="t" textLength="10.78" lengthAdjust="spacingAndGlyphs">2/5</text>
<text x="514.09" y="773.92" class="t" textLength="14.68" lengthAdjust="spacingAndGlyphs">2/12</text>
<text x="538.52" y="773.92" class="t" textLength="14.68" lengthAdjust="spacingAndGlyphs">2/19</text>
<text x="562.95" y="773.92" class="t" textLength="14.68" lengthAdjust="spacingAndGlyphs">2/26</text>
<text x="589.34" y="773.92" class="t" textLength="10.78" lengthAdjust="spacingAndGlyphs">3/4</text>
<text x="611.81" y="773.92" class="t" textLength="14.68" lengthAdjust="spacingAndGlyphs">3/11</text>
<text x="636.24" y="773.92" class="t" textLength="14.68" lengthAdjust="spacingAndGlyphs">3/18</text>
<text x="660.67" y="773.92" class="t" textLength="14.68" lengthAdjust="spacingAndGlyphs">3/25</text>
<text x="687.05" y="773.92" class="t" textLength="10.78" lengthAdjust="spacingAndGlyphs">4/1</text>
<text x="711.49" y="773.92" class="t" textLength="10.78" lengthAdjust="spacingAndGlyphs">4/8</text>
<text x="733.96" y="773.92" class="t" textLength="14.68" lengthAdjust="spacingAndGlyphs">4/15</text>
<text x="758.39" y="773.92" class="t" textLength="14.68" lengthAdjust="spacingAndGlyphs">4/22</text>
<text x="782.82" y="773.92" class="t" textLength="14.68" lengthAdjust="spacingAndGlyphs">4/29</text>
<text x="612.85" y="786.65" class="a" textLength="16.3" lengthAdjust="spacingAndGlyphs">Date</text>
<text transform="translate(415.5 699) rotate(-90)" x="-24.5" y="2.95" class="a" textLength="49" lengthAdjust="spacingAndGlyphs">Case Number</text>
<text x="552.9" y="621.5" class="h" textLength="98.2" lengthAdjust="spacingAndGlyphs">New Deaths (China)</text>
<text transform="translate(406.18 615.4) scale(1.0323 1.0907)" class="l">h</text>
<text transform="translate(426.37 613.83) scale(0.7178 1.0388)" class="l2">)</text>
<path d="M50.1 971.7H388.5M50.1 949.27H388.5M50.1 926.83H388.5M50.1 904.4H388.5M50.1 881.97H388.5M50.1 859.53H388.5M50.1 837.1H388.5" stroke="#D2D2D2" stroke-width="1.3" fill="none"/>
<path d="M50.1 971.7v2.6M73.79 971.7v2.6M97.48 971.7v2.6M121.16 971.7v2.6M144.85 971.7v2.6M168.54 971.7v2.6M192.23 971.7v2.6M215.92 971.7v2.6M239.6 971.7v2.6M263.29 971.7v2.6M286.98 971.7v2.6M310.67 971.7v2.6M334.36 971.7v2.6M358.04 971.7v2.6M381.73 971.7v2.6" stroke="#D2D2D2" stroke-width="0.8" fill="none"/>
<path d="M149.08 971.7h1.69v-1.17h-1.69zM152.47 971.7h1.69v-2.29h-1.69zM155.85 971.7h1.69v-4.86h-1.69zM159.23 971.7h1.69v-6.75h-1.69zM162.62 971.7h1.69v-9.34h-1.69zM166 971.7h1.69v-10.96h-1.69zM169.39 971.7h1.69v-14.14h-1.69zM172.77 971.7h1.69v-19.81h-1.69zM176.15 971.7h1.69v-26.21h-1.69zM179.54 971.7h1.69v-35.33h-1.69zM182.92 971.7h1.69v-41.91h-1.69zM186.31 971.7h1.69v-48.62h-1.69zM189.69 971.7h1.69v-58.17h-1.69zM193.07 971.7h1.69v-63.05h-1.69zM196.46 971.7h1.69v-68.29h-1.69zM199.84 971.7h1.69v-73.95h-1.69zM203.23 971.7h1.69v-78.98h-1.69zM206.61 971.7h1.69v-82.04h-1.69zM209.99 971.7h1.69v-83.88h-1.69zM213.38 971.7h1.69v-84.27h-1.69zM216.76 971.7h1.69v-86.99h-1.69zM220.15 971.7h1.69v-88.26h-1.69zM223.53 971.7h1.69v-89.5h-1.69zM226.91 971.7h1.69v-90.7h-1.69zM230.3 971.7h1.69v-91.55h-1.69zM233.68 971.7h1.69v-92.38h-1.69zM237.07 971.7h1.69v-93.32h-1.69zM240.45 971.7h1.69v-94.37h-1.69zM243.83 971.7h1.69v-96.07h-1.69zM247.22 971.7h1.69v-97.05h-1.69zM250.6 971.7h1.69v-98.7h-1.69zM253.99 971.7h1.69v-100.51h-1.69zM257.37 971.7h1.69v-100.51h-1.69zM260.75 971.7h1.69v-101.37h-1.69zM264.14 971.7h1.69v-102.49h-1.69zM267.52 971.7h1.69v-103.65h-1.69zM270.91 971.7h1.69v-104.67h-1.69zM274.29 971.7h1.69v-106.31h-1.69zM277.67 971.7h1.69v-107.49h-1.69zM281.06 971.7h1.69v-108.36h-1.69zM284.44 971.7h1.69v-109.77h-1.69zM287.83 971.7h1.69v-110.9h-1.69zM291.21 971.7h1.69v-111.9h-1.69zM294.59 971.7h1.69v-112.86h-1.69zM297.98 971.7h1.69v-113.92h-1.69zM301.36 971.7h1.69v-114.83h-1.69zM304.75 971.7h1.69v-115.35h-1.69zM308.13 971.7h1.69v-115.88h-1.69zM311.51 971.7h1.69v-116.47h-1.69zM314.9 971.7h1.69v-116.91h-1.69zM318.28 971.7h1.69v-117.21h-1.69zM321.67 971.7h1.69v-117.55h-1.69zM325.05 971.7h1.69v-117.91h-1.69zM328.43 971.7h1.69v-118.19h-1.69zM331.82 971.7h1.69v-118.49h-1.69zM335.2 971.7h1.69v-118.8h-1.69zM338.59 971.7h1.69v-119.04h-1.69zM341.97 971.7h1.69v-119.29h-1.69zM345.35 971.7h1.69v-119.49h-1.69zM348.74 971.7h1.69v-119.58h-1.69zM352.12 971.7h1.69v-119.73h-1.69zM355.51 971.7h1.69v-119.83h-1.69zM358.89 971.7h1.69v-119.95h-1.69zM362.27 971.7h1.69v-120.04h-1.69zM365.66 971.7h1.69v-120.11h-1.69zM369.04 971.7h1.69v-120.22h-1.69zM372.43 971.7h1.69v-120.33h-1.69zM375.81 971.7h1.69v-120.44h-1.69zM379.19 971.7h1.69v-120.6h-1.69zM382.58 971.7h1.69v-120.7h-1.69zM385.96 971.7h1.69v-120.75h-1.69z" fill="#4472C4"/>
<path d="M50.1 971.7H388.5" stroke="#D2D2D2" stroke-width="1.3" fill="none"/>
<text x="40" y="974.29" class="t" textLength="3.9" lengthAdjust="spacingAndGlyphs">0</text>
<text x="28.28" y="951.86" class="t" textLength="15.62" lengthAdjust="spacingAndGlyphs">2000</text>
<text x="28.28" y="929.43" class="t" textLength="15.62" lengthAdjust="spacingAndGlyphs">4000</text>
<text x="28.28" y="906.99" class="t" textLength="15.62" lengthAdjust="spacingAndGlyphs">6000</text>
<text x="28.28" y="884.56" class="t" textLength="15.62" lengthAdjust="spacingAndGlyphs">8000</text>
<text x="24.38" y="862.13" class="t" textLength="19.52" lengthAdjust="spacingAndGlyphs">10000</text>
<text x="24.38" y="839.69" class="t" textLength="19.52" lengthAdjust="spacingAndGlyphs">12000</text>
<text x="44.45" y="984.62" class="t" textLength="14.68" lengthAdjust="spacingAndGlyphs">1/22</text>
<text x="68.14" y="984.62" class="t" textLength="14.68" lengthAdjust="spacingAndGlyphs">1/29</text>
<text x="93.78" y="984.62" class="t" textLength="10.78" lengthAdjust="spacingAndGlyphs">2/5</text>
<text x="115.51" y="984.62" class="t" textLength="14.68" lengthAdjust="spacingAndGlyphs">2/12</text>
<text x="139.2" y="984.62" class="t" textLength="14.68" lengthAdjust="spacingAndGlyphs">2/19</text>
<text x="162.89" y="984.62" class="t" textLength="14.68" lengthAdjust="spacingAndGlyphs">2/26</text>
<text x="188.53" y="984.62" class="t" textLength="10.78" lengthAdjust="spacingAndGlyphs">3/4</text>
<text x="210.27" y="984.62" class="t" textLength="14.68" lengthAdjust="spacingAndGlyphs">3/11</text>
<text x="233.95" y="984.62" class="t" textLength="14.68" lengthAdjust="spacingAndGlyphs">3/18</text>
<text x="257.64" y="984.62" class="t" textLength="14.68" lengthAdjust="spacingAndGlyphs">3/25</text>
<text x="283.28" y="984.62" class="t" textLength="10.78" lengthAdjust="spacingAndGlyphs">4/1</text>
<text x="306.97" y="984.62" class="t" textLength="10.78" lengthAdjust="spacingAndGlyphs">4/8</text>
<text x="328.71" y="984.62" class="t" textLength="14.68" lengthAdjust="spacingAndGlyphs">4/15</text>
<text x="352.39" y="984.62" class="t" textLength="14.68" lengthAdjust="spacingAndGlyphs">4/22</text>
<text x="376.08" y="984.62" class="t" textLength="14.68" lengthAdjust="spacingAndGlyphs">4/29</text>
<text x="179.15" y="1000.45" class="a" textLength="16.3" lengthAdjust="spacingAndGlyphs">Date</text>
<text transform="translate(16.3 904.5) rotate(-90)" x="-24.5" y="2.95" class="a" textLength="49" lengthAdjust="spacingAndGlyphs">Case Number</text>
<text x="111" y="825.3" class="h" textLength="180.5" lengthAdjust="spacingAndGlyphs">Total Confirmed Cases (South Korea)</text>
<text transform="translate(6.74 816.6) scale(1.2846 1.0017)" class="l">i</text>
<text transform="translate(17.27 815.57) scale(0.7178 1.0180)" class="l2">)</text>
<path d="M436.2 976H781.9M436.2 961.18H781.9M436.2 946.36H781.9M436.2 931.53H781.9M436.2 916.71H781.9M436.2 901.89H781.9M436.2 887.07H781.9M436.2 872.24H781.9M436.2 857.42H781.9M436.2 842.6H781.9" stroke="#D2D2D2" stroke-width="1.3" fill="none"/>
<path d="M436.2 976v2.6M460.4 976v2.6M484.6 976v2.6M508.8 976v2.6M533 976v2.6M557.19 976v2.6M581.39 976v2.6M605.59 976v2.6M629.79 976v2.6M653.99 976v2.6M678.19 976v2.6M702.39 976v2.6M726.59 976v2.6M750.79 976v2.6M774.99 976v2.6" stroke="#D2D2D2" stroke-width="0.8" fill="none"/>
<path d="M537.32 976h1.73v-10.82h-1.73zM540.77 976h1.73v-14.82h-1.73zM544.23 976h1.73v-33.94h-1.73zM547.69 976h1.73v-25.05h-1.73zM551.15 976h1.73v-34.24h-1.73zM554.6 976h1.73v-21.34h-1.73zM558.06 976h1.73v-42.1h-1.73zM561.52 976h1.73v-74.85h-1.73zM564.97 976h1.73v-84.63h-1.73zM568.43 976h1.73v-120.5h-1.73zM571.89 976h1.73v-86.86h-1.73zM575.34 976h1.73v-88.79h-1.73zM578.8 976h1.73v-126.14h-1.73zM582.26 976h1.73v-64.48h-1.73zM585.72 976h1.73v-69.22h-1.73zM589.17 976h1.73v-74.85h-1.73zM592.63 976h1.73v-66.4h-1.73zM596.09 976h1.73v-40.46h-1.73zM599.54 976h1.73v-24.31h-1.73zM603 976h1.73v-5.19h-1.73zM606.46 976h1.73v-35.87h-1.73zM609.91 976h1.73v-16.9h-1.73zM613.37 976h1.73v-16.3h-1.73zM616.83 976h1.73v-15.86h-1.73zM620.29 976h1.73v-11.26h-1.73zM623.74 976h1.73v-10.97h-1.73zM627.2 976h1.73v-12.45h-1.73zM630.66 976h1.73v-13.78h-1.73zM634.11 976h1.73v-22.53h-1.73zM637.57 976h1.73v-12.9h-1.73zM641.03 976h1.73v-21.79h-1.73zM644.48 976h1.73v-24.01h-1.73zM651.4 976h1.73v-11.26h-1.73zM654.86 976h1.73v-14.82h-1.73zM658.31 976h1.73v-15.42h-1.73zM661.77 976h1.73v-13.49h-1.73zM665.23 976h1.73v-21.64h-1.73zM668.68 976h1.73v-15.56h-1.73zM672.14 976h1.73v-11.56h-1.73zM675.6 976h1.73v-18.53h-1.73zM679.05 976h1.73v-14.97h-1.73zM682.51 976h1.73v-13.19h-1.73zM685.97 976h1.73v-12.75h-1.73zM689.43 976h1.73v-13.93h-1.73zM692.88 976h1.73v-12.01h-1.73zM696.34 976h1.73v-6.97h-1.73zM699.8 976h1.73v-6.97h-1.73zM703.25 976h1.73v-7.86h-1.73zM706.71 976h1.73v-5.78h-1.73zM710.17 976h1.73v-4h-1.73zM713.62 976h1.73v-4.45h-1.73zM717.08 976h1.73v-4.74h-1.73zM720.54 976h1.73v-3.71h-1.73zM724 976h1.73v-4h-1.73zM727.45 976h1.73v-4h-1.73zM730.91 976h1.73v-3.26h-1.73zM734.37 976h1.73v-3.26h-1.73zM737.82 976h1.73v-2.67h-1.73zM741.28 976h1.73v-1.19h-1.73zM744.74 976h1.73v-1.93h-1.73zM748.19 976h1.73v-1.33h-1.73zM751.65 976h1.73v-1.63h-1.73zM755.11 976h1.73v-1.19h-1.73zM758.57 976h1.73v-0.89h-1.73zM762.02 976h1.73v-1.48h-1.73zM765.48 976h1.73v-1.48h-1.73zM768.94 976h1.73v-1.48h-1.73zM772.39 976h1.73v-2.08h-1.73zM775.85 976h1.73v-1.33h-1.73zM779.31 976h1.73v-0.59h-1.73z" fill="#4472C4"/>
<path d="M436.2 976H781.9" stroke="#D2D2D2" stroke-width="1.3" fill="none"/>
<text x="426.2" y="978.59" class="t" textLength="3.9" lengthAdjust="spacingAndGlyphs">0</text>
<text x="418.39" y="963.77" class="t" textLength="11.71" lengthAdjust="spacingAndGlyphs">100</text>
<text x="418.39" y="948.95" class="t" textLength="11.71" lengthAdjust="spacingAndGlyphs">200</text>
<text x="418.39" y="934.13" class="t" textLength="11.71" lengthAdjust="spacingAndGlyphs">300</text>
<text x="418.39" y="919.3" class="t" textLength="11.71" lengthAdjust="spacingAndGlyphs">400</text>
<text x="418.39" y="904.48" class="t" textLength="11.71" lengthAdjust="spacingAndGlyphs">500</text>
<text x="418.39" y="889.66" class="t" textLength="11.71" lengthAdjust="spacingAndGlyphs">600</text>
<text x="418.39" y="874.84" class="t" textLength="11.71" lengthAdjust="spacingAndGlyphs">700</text>
<text x="418.39" y="860.01" class="t" textLength="11.71" lengthAdjust="spacingAndGlyphs">800</text>
<text x="418.39" y="845.19" class="t" textLength="11.71" lengthAdjust="spacingAndGlyphs">900</text>
<text x="430.59" y="989.62" class="t" textLength="14.68" lengthAdjust="spacingAndGlyphs">1/22</text>
<text x="454.79" y="989.62" class="t" textLength="14.68" lengthAdjust="spacingAndGlyphs">1/29</text>
<text x="480.94" y="989.62" class="t" textLength="10.78" lengthAdjust="spacingAndGlyphs">2/5</text>
<text x="503.18" y="989.62" class="t" textLength="14.68" lengthAdjust="spacingAndGlyphs">2/12</text>
<text x="527.38" y="989.62" class="t" textLength="14.68" lengthAdjust="spacingAndGlyphs">2/19</text>
<text x="551.58" y="989.62" class="t" textLength="14.68" lengthAdjust="spacingAndGlyphs">2/26</text>
<text x="577.73" y="989.62" class="t" textLength="10.78" lengthAdjust="spacingAndGlyphs">3/4</text>
<text x="599.98" y="989.62" class="t" textLength="14.68" lengthAdjust="spacingAndGlyphs">3/11</text>
<text x="624.18" y="989.62" class="t" textLength="14.68" lengthAdjust="spacingAndGlyphs">3/18</text>
<text x="648.38" y="989.62" class="t" textLength="14.68" lengthAdjust="spacingAndGlyphs">3/25</text>
<text x="674.53" y="989.62" class="t" textLength="10.78" lengthAdjust="spacingAndGlyphs">4/1</text>
<text x="698.73" y="989.62" class="t" textLength="10.78" lengthAdjust="spacingAndGlyphs">4/8</text>
<text x="720.97" y="989.62" class="t" textLength="14.68" lengthAdjust="spacingAndGlyphs">4/15</text>
<text x="745.17" y="989.62" class="t" textLength="14.68" lengthAdjust="spacingAndGlyphs">4/22</text>
<text x="769.37" y="989.62" class="t" textLength="14.68" lengthAdjust="spacingAndGlyphs">4/29</text>
<text x="569.85" y="1004.75" class="a" textLength="16.3" lengthAdjust="spacingAndGlyphs">Date</text>
<text transform="translate(410 909) rotate(-90)" x="-24.5" y="2.95" class="a" textLength="49" lengthAdjust="spacingAndGlyphs">Case Number</text>
<text x="507.8" y="828.3" class="h" textLength="179.7" lengthAdjust="spacingAndGlyphs">New Confirmed Cases (South Korea)</text>
<text transform="translate(410.42 818.73) scale(1.3501 1.0832)" class="l">j</text>
<text transform="translate(422.26 817.98) scale(0.7543 1.1253)" class="l2">)</text>
<path d="M44.6 1172.9H386.8M44.6 1150.55H386.8M44.6 1128.2H386.8M44.6 1105.85H386.8M44.6 1083.5H386.8M44.6 1061.15H386.8M44.6 1038.8H386.8" stroke="#D2D2D2" stroke-width="1.3" fill="none"/>
<path d="M44.6 1172.9v2.6M68.55 1172.9v2.6M92.51 1172.9v2.6M116.46 1172.9v2.6M140.42 1172.9v2.6M164.37 1172.9v2.6M188.32 1172.9v2.6M212.28 1172.9v2.6M236.23 1172.9v2.6M260.19 1172.9v2.6M284.14 1172.9v2.6M308.09 1172.9v2.6M332.05 1172.9v2.6M356 1172.9v2.6M379.96 1172.9v2.6" stroke="#D2D2D2" stroke-width="0.8" fill="none"/>
<path d="M144.18 1172.9h2.74v-0.45h-2.74zM147.6 1172.9h2.74v-0.89h-2.74zM151.02 1172.9h2.74v-0.89h-2.74zM154.45 1172.9h2.74v-2.68h-2.74zM157.87 1172.9h2.74v-3.58h-2.74zM161.29 1172.9h2.74v-4.47h-2.74zM164.71 1172.9h2.74v-5.36h-2.74zM168.13 1172.9h2.74v-5.81h-2.74zM171.56 1172.9h2.74v-5.81h-2.74zM174.98 1172.9h2.74v-7.15h-2.74zM178.4 1172.9h2.74v-7.6h-2.74zM181.82 1172.9h2.74v-12.52h-2.74zM185.24 1172.9h2.74v-12.52h-2.74zM188.67 1172.9h2.74v-15.65h-2.74zM192.09 1172.9h2.74v-15.65h-2.74zM195.51 1172.9h2.74v-18.77h-2.74zM198.93 1172.9h2.74v-19.67h-2.74zM202.35 1172.9h2.74v-22.35h-2.74zM205.78 1172.9h2.74v-23.69h-2.74zM209.2 1172.9h2.74v-24.14h-2.74zM212.62 1172.9h2.74v-26.82h-2.74zM216.04 1172.9h2.74v-29.5h-2.74zM219.46 1172.9h2.74v-29.5h-2.74zM222.89 1172.9h2.74v-32.18h-2.74zM226.31 1172.9h2.74v-33.53h-2.74zM229.73 1172.9h2.74v-33.53h-2.74zM233.15 1172.9h2.74v-36.21h-2.74zM236.57 1172.9h2.74v-37.55h-2.74zM240 1172.9h2.74v-40.68h-2.74zM243.42 1172.9h2.74v-42.02h-2.74zM246.84 1172.9h2.74v-45.59h-2.74zM250.26 1172.9h2.74v-46.49h-2.74zM253.68 1172.9h2.74v-49.62h-2.74zM257.11 1172.9h2.74v-53.64h-2.74zM260.53 1172.9h2.74v-56.32h-2.74zM263.95 1172.9h2.74v-58.56h-2.74zM267.37 1172.9h2.74v-62.13h-2.74zM270.79 1172.9h2.74v-64.37h-2.74zM274.22 1172.9h2.74v-67.94h-2.74zM277.64 1172.9h2.74v-70.63h-2.74zM281.06 1172.9h2.74v-72.41h-2.74zM284.48 1172.9h2.74v-73.76h-2.74zM287.9 1172.9h2.74v-75.54h-2.74zM291.33 1172.9h2.74v-77.78h-2.74zM294.75 1172.9h2.74v-79.12h-2.74zM298.17 1172.9h2.74v-81.8h-2.74zM301.59 1172.9h2.74v-83.14h-2.74zM305.01 1172.9h2.74v-85.82h-2.74zM308.44 1172.9h2.74v-89.4h-2.74zM311.86 1172.9h2.74v-91.19h-2.74zM315.28 1172.9h2.74v-92.98h-2.74zM318.7 1172.9h2.74v-94.32h-2.74zM322.12 1172.9h2.74v-95.66h-2.74zM325.55 1172.9h2.74v-97h-2.74zM328.97 1172.9h2.74v-99.23h-2.74zM332.39 1172.9h2.74v-100.58h-2.74zM335.81 1172.9h2.74v-102.36h-2.74zM339.23 1172.9h2.74v-102.81h-2.74zM342.66 1172.9h2.74v-103.7h-2.74zM346.08 1172.9h2.74v-104.6h-2.74zM349.5 1172.9h2.74v-105.49h-2.74zM352.92 1172.9h2.74v-105.94h-2.74zM356.34 1172.9h2.74v-106.39h-2.74zM359.77 1172.9h2.74v-107.28h-2.74zM363.19 1172.9h2.74v-107.28h-2.74zM366.61 1172.9h2.74v-107.28h-2.74zM370.03 1172.9h2.74v-108.17h-2.74zM373.45 1172.9h2.74v-108.62h-2.74zM376.88 1172.9h2.74v-109.07h-2.74zM380.3 1172.9h2.74v-109.96h-2.74zM383.72 1172.9h2.74v-111.75h-2.74z" fill="#FF0000"/>
<path d="M44.6 1172.9H386.8" stroke="#D2D2D2" stroke-width="1.3" fill="none"/>
<text x="33.7" y="1175.49" class="t" textLength="3.9" lengthAdjust="spacingAndGlyphs">0</text>
<text x="29.79" y="1153.14" class="t" textLength="7.81" lengthAdjust="spacingAndGlyphs">50</text>
<text x="25.89" y="1130.79" class="t" textLength="11.71" lengthAdjust="spacingAndGlyphs">100</text>
<text x="25.89" y="1108.44" class="t" textLength="11.71" lengthAdjust="spacingAndGlyphs">150</text>
<text x="25.89" y="1086.09" class="t" textLength="11.71" lengthAdjust="spacingAndGlyphs">200</text>
<text x="25.89" y="1063.74" class="t" textLength="11.71" lengthAdjust="spacingAndGlyphs">250</text>
<text x="25.89" y="1041.39" class="t" textLength="11.71" lengthAdjust="spacingAndGlyphs">300</text>
<text x="38.97" y="1186.42" class="t" textLength="14.68" lengthAdjust="spacingAndGlyphs">1/22</text>
<text x="62.92" y="1186.42" class="t" textLength="14.68" lengthAdjust="spacingAndGlyphs">1/29</text>
<text x="88.83" y="1186.42" class="t" textLength="10.78" lengthAdjust="spacingAndGlyphs">2/5</text>
<text x="110.83" y="1186.42" class="t" textLength="14.68" lengthAdjust="spacingAndGlyphs">2/12</text>
<text x="134.79" y="1186.42" class="t" textLength="14.68" lengthAdjust="spacingAndGlyphs">2/19</text>
<text x="158.74" y="1186.42" class="t" textLength="14.68" lengthAdjust="spacingAndGlyphs">2/26</text>
<text x="184.64" y="1186.42" class="t" textLength="10.78" lengthAdjust="spacingAndGlyphs">3/4</text>
<text x="206.65" y="1186.42" class="t" textLength="14.68" lengthAdjust="spacingAndGlyphs">3/11</text>
<text x="230.6" y="1186.42" class="t" textLength="14.68" lengthAdjust="spacingAndGlyphs">3/18</text>
<text x="254.56" y="1186.42" class="t" textLength="14.68" lengthAdjust="spacingAndGlyphs">3/25</text>
<text x="280.46" y="1186.42" class="t" textLength="10.78" lengthAdjust="spacingAndGlyphs">4/1</text>
<text x="304.42" y="1186.42" class="t" textLength="10.78" lengthAdjust="spacingAndGlyphs">4/8</text>
<text x="326.42" y="1186.42" class="t" textLength="14.68" lengthAdjust="spacingAndGlyphs">4/15</text>
<text x="350.37" y="1186.42" class="t" textLength="14.68" lengthAdjust="spacingAndGlyphs">4/22</text>
<text x="374.33" y="1186.42" class="t" textLength="14.68" lengthAdjust="spacingAndGlyphs">4/29</text>
<text x="185.85" y="1202.15" class="a" textLength="16.3" lengthAdjust="spacingAndGlyphs">Date</text>
<text transform="translate(17.5 1105.3) rotate(-90)" x="-24.5" y="2.95" class="a" textLength="49" lengthAdjust="spacingAndGlyphs">Case Number</text>
<text x="132.1" y="1027" class="h" textLength="131.8" lengthAdjust="spacingAndGlyphs">Total Deaths (South Korea)</text>
<text transform="translate(4.58 1024.2) scale(0.9661 1.0773)" class="l">k</text>
<text transform="translate(22.57 1023.07) scale(0.7178 1.0180)" class="l2">)</text>
<path d="M441.4 1172.9H789.2M441.4 1150.55H789.2M441.4 1128.2H789.2M441.4 1105.85H789.2M441.4 1083.5H789.2M441.4 1061.15H789.2M441.4 1038.8H789.2" stroke="#D2D2D2" stroke-width="1.3" fill="none"/>
<path d="M441.4 1172.9v2.6M465.75 1172.9v2.6M490.09 1172.9v2.6M514.44 1172.9v2.6M538.78 1172.9v2.6M563.13 1172.9v2.6M587.48 1172.9v2.6M611.82 1172.9v2.6M636.17 1172.9v2.6M660.51 1172.9v2.6M684.86 1172.9v2.6M709.21 1172.9v2.6M733.55 1172.9v2.6M757.9 1172.9v2.6M782.24 1172.9v2.6" stroke="#D2D2D2" stroke-width="0.8" fill="none"/>
<path d="M542.61 1172.9h2.78v-11.18h-2.78zM546.09 1172.9h2.78v-11.18h-2.78zM553.04 1172.9h2.78v-44.7h-2.78zM556.52 1172.9h2.78v-22.35h-2.78zM560 1172.9h2.78v-22.35h-2.78zM563.48 1172.9h2.78v-22.35h-2.78zM566.96 1172.9h2.78v-11.18h-2.78zM573.91 1172.9h2.78v-33.53h-2.78zM577.39 1172.9h2.78v-11.18h-2.78zM580.87 1172.9h2.78v-122.93h-2.78zM587.82 1172.9h2.78v-78.23h-2.78zM594.78 1172.9h2.78v-78.23h-2.78zM598.26 1172.9h2.78v-22.35h-2.78zM601.74 1172.9h2.78v-67.05h-2.78zM605.21 1172.9h2.78v-33.53h-2.78zM608.69 1172.9h2.78v-11.18h-2.78zM612.17 1172.9h2.78v-67.05h-2.78zM615.65 1172.9h2.78v-67.05h-2.78zM622.6 1172.9h2.78v-67.05h-2.78zM626.08 1172.9h2.78v-33.53h-2.78zM633.04 1172.9h2.78v-67.05h-2.78zM636.52 1172.9h2.78v-33.53h-2.78zM639.99 1172.9h2.78v-78.23h-2.78zM643.47 1172.9h2.78v-33.53h-2.78zM646.95 1172.9h2.78v-89.4h-2.78zM650.43 1172.9h2.78v-100.58h-2.78zM657.38 1172.9h2.78v-100.58h-2.78zM660.86 1172.9h2.78v-67.05h-2.78zM664.34 1172.9h2.78v-55.88h-2.78zM667.82 1172.9h2.78v-89.4h-2.78zM671.3 1172.9h2.78v-55.88h-2.78zM674.77 1172.9h2.78v-89.4h-2.78zM678.25 1172.9h2.78v-67.05h-2.78zM681.73 1172.9h2.78v-44.7h-2.78zM685.21 1172.9h2.78v-33.53h-2.78zM688.69 1172.9h2.78v-44.7h-2.78zM692.16 1172.9h2.78v-55.88h-2.78zM695.64 1172.9h2.78v-33.53h-2.78zM699.12 1172.9h2.78v-67.05h-2.78zM702.6 1172.9h2.78v-33.53h-2.78zM706.08 1172.9h2.78v-67.05h-2.78zM709.55 1172.9h2.78v-89.4h-2.78zM713.03 1172.9h2.78v-44.7h-2.78zM716.51 1172.9h2.78v-44.7h-2.78zM719.99 1172.9h2.78v-33.53h-2.78zM723.47 1172.9h2.78v-33.53h-2.78zM726.94 1172.9h2.78v-33.53h-2.78zM730.42 1172.9h2.78v-55.88h-2.78zM733.9 1172.9h2.78v-33.53h-2.78zM737.38 1172.9h2.78v-44.7h-2.78zM740.86 1172.9h2.78v-11.18h-2.78zM744.33 1172.9h2.78v-22.35h-2.78zM747.81 1172.9h2.78v-22.35h-2.78zM751.29 1172.9h2.78v-22.35h-2.78zM754.77 1172.9h2.78v-11.18h-2.78zM758.25 1172.9h2.78v-11.18h-2.78zM761.72 1172.9h2.78v-22.35h-2.78zM768.68 1172.9h2.78v-22.35h-2.78zM772.16 1172.9h2.78v-11.18h-2.78zM775.64 1172.9h2.78v-11.18h-2.78zM779.11 1172.9h2.78v-22.35h-2.78zM782.59 1172.9h2.78v-11.18h-2.78zM786.07 1172.9h2.78v-11.18h-2.78z" fill="#FF0000"/>
<path d="M441.4 1172.9H789.2" stroke="#D2D2D2" stroke-width="1.3" fill="none"/>
<text x="429.9" y="1175.49" class="t" textLength="3.9" lengthAdjust="spacingAndGlyphs">0</text>
<text x="429.9" y="1153.14" class="t" textLength="3.9" lengthAdjust="spacingAndGlyphs">2</text>
<text x="429.9" y="1130.79" class="t" textLength="3.9" lengthAdjust="spacingAndGlyphs">4</text>
<text x="429.9" y="1108.44" class="t" textLength="3.9" lengthAdjust="spacingAndGlyphs">6</text>
<text x="429.9" y="1086.09" class="t" textLength="3.9" lengthAdjust="spacingAndGlyphs">8</text>
<text x="425.99" y="1063.74" class="t" textLength="7.81" lengthAdjust="spacingAndGlyphs">10</text>
<text x="425.99" y="1041.39" class="t" textLength="7.81" lengthAdjust="spacingAndGlyphs">12</text>
<text x="435.8" y="1186.42" class="t" textLength="14.68" lengthAdjust="spacingAndGlyphs">1/22</text>
<text x="460.14" y="1186.42" class="t" textLength="14.68" lengthAdjust="spacingAndGlyphs">1/29</text>
<text x="486.44" y="1186.42" class="t" textLength="10.78" lengthAdjust="spacingAndGlyphs">2/5</text>
<text x="508.84" y="1186.42" class="t" textLength="14.68" lengthAdjust="spacingAndGlyphs">2/12</text>
<text x="533.18" y="1186.42" class="t" textLength="14.68" lengthAdjust="spacingAndGlyphs">2/19</text>
<text x="557.53" y="1186.42" class="t" textLength="14.68" lengthAdjust="spacingAndGlyphs">2/26</text>
<text x="583.83" y="1186.42" class="t" textLength="10.78" lengthAdjust="spacingAndGlyphs">3/4</text>
<text x="606.22" y="1186.42" class="t" textLength="14.68" lengthAdjust="spacingAndGlyphs">3/11</text>
<text x="630.57" y="1186.42" class="t" textLength="14.68" lengthAdjust="spacingAndGlyphs">3/18</text>
<text x="654.91" y="1186.42" class="t" textLength="14.68" lengthAdjust="spacingAndGlyphs">3/25</text>
<text x="681.21" y="1186.42" class="t" textLength="10.78" lengthAdjust="spacingAndGlyphs">4/1</text>
<text x="705.56" y="1186.42" class="t" textLength="10.78" lengthAdjust="spacingAndGlyphs">4/8</text>
<text x="727.95" y="1186.42" class="t" textLength="14.68" lengthAdjust="spacingAndGlyphs">4/15</text>
<text x="752.3" y="1186.42" class="t" textLength="14.68" lengthAdjust="spacingAndGlyphs">4/22</text>
<text x="776.64" y="1186.42" class="t" textLength="14.68" lengthAdjust="spacingAndGlyphs">4/29</text>
<text x="586.85" y="1199.65" class="a" textLength="16.3" lengthAdjust="spacingAndGlyphs">Date</text>
<text transform="translate(418.8 1105.3) rotate(-90)" x="-24.5" y="2.95" class="a" textLength="49" lengthAdjust="spacingAndGlyphs">Case Number</text>
<text x="536.6" y="1027.8" class="h" textLength="129.6" lengthAdjust="spacingAndGlyphs">New Deaths (South Korea)</text>
<text transform="translate(407.4 1024.2) scale(0.9586 1.0773)" class="l">k</text>
<text transform="translate(425.48 1023.3) scale(0.6813 1.0284)" class="l2">)</text>
<path d="M53.1 1382.4H378.9M53.1 1369.47H378.9M53.1 1356.54H378.9M53.1 1343.61H378.9M53.1 1330.68H378.9M53.1 1317.75H378.9M53.1 1304.82H378.9M53.1 1291.89H378.9M53.1 1278.96H378.9M53.1 1266.03H378.9M53.1 1253.1H378.9" stroke="#D2D2D2" stroke-width="1.3" fill="none"/>
<path d="M53.1 1382.4v2.6M75.91 1382.4v2.6M98.71 1382.4v2.6M121.52 1382.4v2.6M144.32 1382.4v2.6M167.13 1382.4v2.6M189.94 1382.4v2.6M212.74 1382.4v2.6M235.55 1382.4v2.6M258.35 1382.4v2.6M281.16 1382.4v2.6M303.97 1382.4v2.6M326.77 1382.4v2.6M349.58 1382.4v2.6M372.38 1382.4v2.6" stroke="#D2D2D2" stroke-width="0.8" fill="none"/>
<path d="M220.07 1382.4h1.63v-0.52h-1.63zM223.33 1382.4h1.63v-0.74h-1.63zM226.59 1382.4h1.63v-0.74h-1.63zM229.85 1382.4h1.63v-1h-1.63zM233.1 1382.4h1.63v-1.27h-1.63zM236.36 1382.4h1.63v-1.71h-1.63zM239.62 1382.4h1.63v-1.76h-1.63zM242.88 1382.4h1.63v-2.6h-1.63zM246.14 1382.4h1.63v-3.28h-1.63zM249.39 1382.4h1.63v-3.71h-1.63zM252.65 1382.4h1.63v-4.35h-1.63zM255.91 1382.4h1.63v-5.28h-1.63zM259.17 1382.4h1.63v-6.23h-1.63zM262.43 1382.4h1.63v-7.64h-1.63zM265.68 1382.4h1.63v-9.53h-1.63zM268.94 1382.4h1.63v-11.19h-1.63zM272.2 1382.4h1.63v-12.79h-1.63zM275.46 1382.4h1.63v-14.52h-1.63zM278.72 1382.4h1.63v-16.47h-1.63zM281.97 1382.4h1.63v-19.31h-1.63zM285.23 1382.4h1.63v-22.09h-1.63zM288.49 1382.4h1.63v-25.01h-1.63zM291.75 1382.4h1.63v-27.46h-1.63zM295.01 1382.4h1.63v-31.31h-1.63zM298.26 1382.4h1.63v-33.8h-1.63zM301.52 1382.4h1.63v-36.17h-1.63zM304.78 1382.4h1.63v-39.74h-1.63zM308.04 1382.4h1.63v-42.59h-1.63zM311.3 1382.4h1.63v-48.23h-1.63zM314.55 1382.4h1.63v-51.64h-1.63zM317.81 1382.4h1.63v-55.09h-1.63zM321.07 1382.4h1.63v-57.91h-1.63zM324.33 1382.4h1.63v-61.32h-1.63zM327.59 1382.4h1.63v-64.32h-1.63zM330.84 1382.4h1.63v-67.33h-1.63zM334.1 1382.4h1.63v-70.97h-1.63zM337.36 1382.4h1.63v-74.55h-1.63zM340.62 1382.4h1.63v-78.34h-1.63zM343.88 1382.4h1.63v-81.37h-1.63zM347.13 1382.4h1.63v-84.16h-1.63zM350.39 1382.4h1.63v-87.04h-1.63zM353.65 1382.4h1.63v-90.02h-1.63zM356.91 1382.4h1.63v-93.51h-1.63zM360.17 1382.4h1.63v-96.7h-1.63zM363.42 1382.4h1.63v-99.58h-1.63zM366.68 1382.4h1.63v-102.37h-1.63zM369.94 1382.4h1.63v-104.96h-1.63zM373.2 1382.4h1.63v-107.6h-1.63zM376.46 1382.4h1.63v-111.51h-1.63z" fill="#4472C4"/>
<path d="M53.1 1382.4H378.9" stroke="#D2D2D2" stroke-width="1.3" fill="none"/>
<text x="42" y="1384.99" class="t" textLength="3.9" lengthAdjust="spacingAndGlyphs">0</text>
<text x="26.38" y="1372.06" class="t" textLength="19.52" lengthAdjust="spacingAndGlyphs">20000</text>
<text x="26.38" y="1359.13" class="t" textLength="19.52" lengthAdjust="spacingAndGlyphs">40000</text>
<text x="26.38" y="1346.2" class="t" textLength="19.52" lengthAdjust="spacingAndGlyphs">60000</text>
<text x="26.38" y="1333.27" class="t" textLength="19.52" lengthAdjust="spacingAndGlyphs">80000</text>
<text x="22.48" y="1320.34" class="t" textLength="23.42" lengthAdjust="spacingAndGlyphs">100000</text>
<text x="22.48" y="1307.41" class="t" textLength="23.42" lengthAdjust="spacingAndGlyphs">120000</text>
<text x="22.48" y="1294.48" class="t" textLength="23.42" lengthAdjust="spacingAndGlyphs">140000</text>
<text x="22.48" y="1281.55" class="t" textLength="23.42" lengthAdjust="spacingAndGlyphs">160000</text>
<text x="22.48" y="1268.62" class="t" textLength="23.42" lengthAdjust="spacingAndGlyphs">180000</text>
<text x="22.48" y="1255.69" class="t" textLength="23.42" lengthAdjust="spacingAndGlyphs">200000</text>
<text x="47.39" y="1395.42" class="t" textLength="14.68" lengthAdjust="spacingAndGlyphs">1/22</text>
<text x="70.19" y="1395.42" class="t" textLength="14.68" lengthAdjust="spacingAndGlyphs">1/29</text>
<text x="94.95" y="1395.42" class="t" textLength="10.78" lengthAdjust="spacingAndGlyphs">2/5</text>
<text x="115.81" y="1395.42" class="t" textLength="14.68" lengthAdjust="spacingAndGlyphs">2/12</text>
<text x="138.61" y="1395.42" class="t" textLength="14.68" lengthAdjust="spacingAndGlyphs">2/19</text>
<text x="161.42" y="1395.42" class="t" textLength="14.68" lengthAdjust="spacingAndGlyphs">2/26</text>
<text x="186.17" y="1395.42" class="t" textLength="10.78" lengthAdjust="spacingAndGlyphs">3/4</text>
<text x="207.03" y="1395.42" class="t" textLength="14.68" lengthAdjust="spacingAndGlyphs">3/11</text>
<text x="229.84" y="1395.42" class="t" textLength="14.68" lengthAdjust="spacingAndGlyphs">3/18</text>
<text x="252.64" y="1395.42" class="t" textLength="14.68" lengthAdjust="spacingAndGlyphs">3/25</text>
<text x="277.4" y="1395.42" class="t" textLength="10.78" lengthAdjust="spacingAndGlyphs">4/1</text>
<text x="300.2" y="1395.42" class="t" textLength="10.78" lengthAdjust="spacingAndGlyphs">4/8</text>
<text x="321.06" y="1395.42" class="t" textLength="14.68" lengthAdjust="spacingAndGlyphs">4/15</text>
<text x="343.87" y="1395.42" class="t" textLength="14.68" lengthAdjust="spacingAndGlyphs">4/22</text>
<text x="366.67" y="1395.42" class="t" textLength="14.68" lengthAdjust="spacingAndGlyphs">4/29</text>
<text x="207.55" y="1408.45" class="a" textLength="16.3" lengthAdjust="spacingAndGlyphs">Date</text>
<text transform="translate(14.3 1317.8) rotate(-90)" x="-24.5" y="2.95" class="a" textLength="49" lengthAdjust="spacingAndGlyphs">Case Number</text>
<text x="115.3" y="1238.3" class="h" textLength="155.6" lengthAdjust="spacingAndGlyphs">Total Confirmed Cases (The UK)</text>
<text transform="translate(6.65 1238.5) scale(1.0277 1.0729)" class="l">l</text>
<text transform="translate(16.78 1237.4) scale(0.6692 1.0284)" class="l2">)</text>
<path d="M449.6 1386.7H779M449.6 1373.74H779M449.6 1360.78H779M449.6 1347.82H779M449.6 1334.86H779M449.6 1321.9H779M449.6 1308.94H779M449.6 1295.98H779M449.6 1283.02H779M449.6 1270.06H779M449.6 1257.1H779" stroke="#D2D2D2" stroke-width="1.3" fill="none"/>
<path d="M449.6 1386.7v2.6M472.66 1386.7v2.6M495.72 1386.7v2.6M518.77 1386.7v2.6M541.83 1386.7v2.6M564.89 1386.7v2.6M587.95 1386.7v2.6M611.01 1386.7v2.6M634.06 1386.7v2.6M657.12 1386.7v2.6M680.18 1386.7v2.6M703.24 1386.7v2.6M726.3 1386.7v2.6M749.35 1386.7v2.6M772.41 1386.7v2.6" stroke="#D2D2D2" stroke-width="0.8" fill="none"/>
<path d="M601.95 1386.7h1.65v-0.78h-1.65zM611.83 1386.7h1.65v-1.3h-1.65zM618.42 1386.7h1.65v-4.41h-1.65zM621.71 1386.7h1.65v-4.41h-1.65zM628.3 1386.7h1.65v-5.18h-1.65zM631.59 1386.7h1.65v-5.18h-1.65zM634.89 1386.7h1.65v-8.42h-1.65zM638.18 1386.7h1.65v-0.78h-1.65zM641.48 1386.7h1.65v-15.55h-1.65zM644.77 1386.7h1.65v-12.96h-1.65zM648.06 1386.7h1.65v-7.78h-1.65zM651.36 1386.7h1.65v-12.31h-1.65zM654.65 1386.7h1.65v-18.14h-1.65zM657.95 1386.7h1.65v-18.79h-1.65zM661.24 1386.7h1.65v-27.22h-1.65zM664.53 1386.7h1.65v-37.58h-1.65zM667.83 1386.7h1.65v-33.05h-1.65zM671.12 1386.7h1.65v-31.75h-1.65zM674.42 1386.7h1.65v-34.34h-1.65zM677.71 1386.7h1.65v-38.88h-1.65zM681 1386.7h1.65v-56.38h-1.65zM684.3 1386.7h1.65v-55.08h-1.65zM687.59 1386.7h1.65v-57.67h-1.65zM690.89 1386.7h1.65v-49.25h-1.65zM694.18 1386.7h1.65v-76.46h-1.65zM697.47 1386.7h1.65v-49.25h-1.65zM700.77 1386.7h1.65v-47.3h-1.65zM704.06 1386.7h1.65v-71.28h-1.65zM707.36 1386.7h1.65v-57.02h-1.65zM710.65 1386.7h1.65v-112.75h-1.65zM713.94 1386.7h1.65v-67.39h-1.65zM717.24 1386.7h1.65v-68.69h-1.65zM720.53 1386.7h1.65v-55.73h-1.65zM723.83 1386.7h1.65v-67.39h-1.65zM727.12 1386.7h1.65v-60.91h-1.65zM730.41 1386.7h1.65v-60.91h-1.65zM733.71 1386.7h1.65v-72.58h-1.65zM737 1386.7h1.65v-71.28h-1.65zM740.3 1386.7h1.65v-75.17h-1.65zM743.59 1386.7h1.65v-60.91h-1.65zM746.88 1386.7h1.65v-55.73h-1.65zM750.18 1386.7h1.65v-58.32h-1.65zM753.47 1386.7h1.65v-59.62h-1.65zM756.77 1386.7h1.65v-69.98h-1.65zM760.06 1386.7h1.65v-63.5h-1.65zM763.35 1386.7h1.65v-57.67h-1.65zM766.65 1386.7h1.65v-54.43h-1.65zM769.94 1386.7h1.65v-51.19h-1.65zM773.24 1386.7h1.65v-52.49h-1.65zM776.53 1386.7h1.65v-78.41h-1.65z" fill="#4472C4"/>
<path d="M449.6 1386.7H779" stroke="#D2D2D2" stroke-width="1.3" fill="none"/>
<text x="438.7" y="1389.29" class="t" textLength="3.9" lengthAdjust="spacingAndGlyphs">0</text>
<text x="426.98" y="1376.33" class="t" textLength="15.62" lengthAdjust="spacingAndGlyphs">1000</text>
<text x="426.98" y="1363.37" class="t" textLength="15.62" lengthAdjust="spacingAndGlyphs">2000</text>
<text x="426.98" y="1350.41" class="t" textLength="15.62" lengthAdjust="spacingAndGlyphs">3000</text>
<text x="426.98" y="1337.45" class="t" textLength="15.62" lengthAdjust="spacingAndGlyphs">4000</text>
<text x="426.98" y="1324.49" class="t" textLength="15.62" lengthAdjust="spacingAndGlyphs">5000</text>
<text x="426.98" y="1311.53" class="t" textLength="15.62" lengthAdjust="spacingAndGlyphs">6000</text>
<text x="426.98" y="1298.57" class="t" textLength="15.62" lengthAdjust="spacingAndGlyphs">7000</text>
<text x="426.98" y="1285.61" class="t" textLength="15.62" lengthAdjust="spacingAndGlyphs">8000</text>
<text x="426.98" y="1272.65" class="t" textLength="15.62" lengthAdjust="spacingAndGlyphs">9000</text>
<text x="423.08" y="1259.69" class="t" textLength="19.52" lengthAdjust="spacingAndGlyphs">10000</text>
<text x="443.91" y="1399.62" class="t" textLength="14.68" lengthAdjust="spacingAndGlyphs">1/22</text>
<text x="466.96" y="1399.62" class="t" textLength="14.68" lengthAdjust="spacingAndGlyphs">1/29</text>
<text x="491.97" y="1399.62" class="t" textLength="10.78" lengthAdjust="spacingAndGlyphs">2/5</text>
<text x="513.08" y="1399.62" class="t" textLength="14.68" lengthAdjust="spacingAndGlyphs">2/12</text>
<text x="536.14" y="1399.62" class="t" textLength="14.68" lengthAdjust="spacingAndGlyphs">2/19</text>
<text x="559.2" y="1399.62" class="t" textLength="14.68" lengthAdjust="spacingAndGlyphs">2/26</text>
<text x="584.21" y="1399.62" class="t" textLength="10.78" lengthAdjust="spacingAndGlyphs">3/4</text>
<text x="605.31" y="1399.62" class="t" textLength="14.68" lengthAdjust="spacingAndGlyphs">3/11</text>
<text x="628.37" y="1399.62" class="t" textLength="14.68" lengthAdjust="spacingAndGlyphs">3/18</text>
<text x="651.43" y="1399.62" class="t" textLength="14.68" lengthAdjust="spacingAndGlyphs">3/25</text>
<text x="676.44" y="1399.62" class="t" textLength="10.78" lengthAdjust="spacingAndGlyphs">4/1</text>
<text x="699.5" y="1399.62" class="t" textLength="10.78" lengthAdjust="spacingAndGlyphs">4/8</text>
<text x="720.6" y="1399.62" class="t" textLength="14.68" lengthAdjust="spacingAndGlyphs">4/15</text>
<text x="743.66" y="1399.62" class="t" textLength="14.68" lengthAdjust="spacingAndGlyphs">4/22</text>
<text x="766.72" y="1399.62" class="t" textLength="14.68" lengthAdjust="spacingAndGlyphs">4/29</text>
<text x="606.35" y="1412.65" class="a" textLength="16.3" lengthAdjust="spacingAndGlyphs">Date</text>
<text transform="translate(415 1321.5) rotate(-90)" x="-24.5" y="2.95" class="a" textLength="49" lengthAdjust="spacingAndGlyphs">Case Number</text>
<text x="516.5" y="1242.8" class="h" textLength="154.2" lengthAdjust="spacingAndGlyphs">New Confirmed Cases (The UK)</text>
<text transform="translate(403.95 1238.5) scale(1.0451 1.0131)" class="l">m</text>
<text transform="translate(433.27 1237) scale(0.7178 0.9972)" class="l2">)</text>
<path d="M49.2 1597.2H376.1M49.2 1575.7H376.1M49.2 1554.2H376.1M49.2 1532.7H376.1M49.2 1511.2H376.1M49.2 1489.7H376.1M49.2 1468.2H376.1" stroke="#D2D2D2" stroke-width="1.3" fill="none"/>
<path d="M49.2 1597.2v2.6M72.08 1597.2v2.6M94.97 1597.2v2.6M117.85 1597.2v2.6M140.73 1597.2v2.6M163.62 1597.2v2.6M186.5 1597.2v2.6M209.38 1597.2v2.6M232.26 1597.2v2.6M255.15 1597.2v2.6M278.03 1597.2v2.6M300.91 1597.2v2.6M323.8 1597.2v2.6M346.68 1597.2v2.6M369.56 1597.2v2.6" stroke="#D2D2D2" stroke-width="0.8" fill="none"/>
<path d="M229.32 1597.2h2.62v-0.43h-2.62zM232.59 1597.2h2.62v-0.73h-2.62zM235.86 1597.2h2.62v-0.99h-2.62zM239.13 1597.2h2.62v-1.25h-2.62zM242.4 1597.2h2.62v-1.5h-2.62zM245.67 1597.2h2.62v-1.72h-2.62zM248.94 1597.2h2.62v-2.02h-2.62zM252.2 1597.2h2.62v-2.58h-2.62zM255.47 1597.2h2.62v-3.44h-2.62zM258.74 1597.2h2.62v-4.3h-2.62zM262.01 1597.2h2.62v-5.59h-2.62zM265.28 1597.2h2.62v-6.88h-2.62zM268.55 1597.2h2.62v-8.17h-2.62zM271.82 1597.2h2.62v-9.89h-2.62zM275.09 1597.2h2.62v-11.18h-2.62zM278.36 1597.2h2.62v-13.76h-2.62zM281.63 1597.2h2.62v-16.77h-2.62zM284.89 1597.2h2.62v-19.78h-2.62zM288.16 1597.2h2.62v-22.36h-2.62zM291.43 1597.2h2.62v-26.23h-2.62zM294.7 1597.2h2.62v-27.95h-2.62zM297.97 1597.2h2.62v-32.68h-2.62zM301.24 1597.2h2.62v-36.98h-2.62zM304.51 1597.2h2.62v-41.71h-2.62zM307.78 1597.2h2.62v-46.87h-2.62zM311.05 1597.2h2.62v-50.74h-2.62zM314.32 1597.2h2.62v-53.75h-2.62zM317.58 1597.2h2.62v-55.9h-2.62zM320.85 1597.2h2.62v-61.06h-2.62zM324.12 1597.2h2.62v-64.93h-2.62zM327.39 1597.2h2.62v-68.8h-2.62zM330.66 1597.2h2.62v-73.53h-2.62zM333.93 1597.2h2.62v-77.83h-2.62zM337.2 1597.2h2.62v-80.84h-2.62zM340.47 1597.2h2.62v-82.56h-2.62zM343.74 1597.2h2.62v-87.72h-2.62zM347.01 1597.2h2.62v-91.16h-2.62zM350.27 1597.2h2.62v-94.6h-2.62zM353.54 1597.2h2.62v-98.9h-2.62zM356.81 1597.2h2.62v-102.34h-2.62zM360.08 1597.2h2.62v-104.49h-2.62zM363.35 1597.2h2.62v-105.78h-2.62zM366.62 1597.2h2.62v-110.08h-2.62zM369.89 1597.2h2.62v-113.09h-2.62zM373.16 1597.2h2.62v-116.1h-2.62z" fill="#FF0000"/>
<path d="M49.2 1597.2H376.1" stroke="#D2D2D2" stroke-width="1.3" fill="none"/>
<text x="38" y="1599.79" class="t" textLength="3.9" lengthAdjust="spacingAndGlyphs">0</text>
<text x="26.28" y="1578.29" class="t" textLength="15.62" lengthAdjust="spacingAndGlyphs">5000</text>
<text x="22.38" y="1556.79" class="t" textLength="19.52" lengthAdjust="spacingAndGlyphs">10000</text>
<text x="22.38" y="1535.29" class="t" textLength="19.52" lengthAdjust="spacingAndGlyphs">15000</text>
<text x="22.38" y="1513.79" class="t" textLength="19.52" lengthAdjust="spacingAndGlyphs">20000</text>
<text x="22.38" y="1492.29" class="t" textLength="19.52" lengthAdjust="spacingAndGlyphs">25000</text>
<text x="22.38" y="1470.79" class="t" textLength="19.52" lengthAdjust="spacingAndGlyphs">30000</text>
<text x="43.49" y="1610.42" class="t" textLength="14.68" lengthAdjust="spacingAndGlyphs">1/22</text>
<text x="66.38" y="1610.42" class="t" textLength="14.68" lengthAdjust="spacingAndGlyphs">1/29</text>
<text x="91.21" y="1610.42" class="t" textLength="10.78" lengthAdjust="spacingAndGlyphs">2/5</text>
<text x="112.14" y="1610.42" class="t" textLength="14.68" lengthAdjust="spacingAndGlyphs">2/12</text>
<text x="135.02" y="1610.42" class="t" textLength="14.68" lengthAdjust="spacingAndGlyphs">2/19</text>
<text x="157.91" y="1610.42" class="t" textLength="14.68" lengthAdjust="spacingAndGlyphs">2/26</text>
<text x="182.74" y="1610.42" class="t" textLength="10.78" lengthAdjust="spacingAndGlyphs">3/4</text>
<text x="203.67" y="1610.42" class="t" textLength="14.68" lengthAdjust="spacingAndGlyphs">3/11</text>
<text x="226.56" y="1610.42" class="t" textLength="14.68" lengthAdjust="spacingAndGlyphs">3/18</text>
<text x="249.44" y="1610.42" class="t" textLength="14.68" lengthAdjust="spacingAndGlyphs">3/25</text>
<text x="274.27" y="1610.42" class="t" textLength="10.78" lengthAdjust="spacingAndGlyphs">4/1</text>
<text x="297.16" y="1610.42" class="t" textLength="10.78" lengthAdjust="spacingAndGlyphs">4/8</text>
<text x="318.09" y="1610.42" class="t" textLength="14.68" lengthAdjust="spacingAndGlyphs">4/15</text>
<text x="340.97" y="1610.42" class="t" textLength="14.68" lengthAdjust="spacingAndGlyphs">4/22</text>
<text x="363.85" y="1610.42" class="t" textLength="14.68" lengthAdjust="spacingAndGlyphs">4/29</text>
<text x="204.75" y="1623.45" class="a" textLength="16.3" lengthAdjust="spacingAndGlyphs">Date</text>
<text transform="translate(14.3 1532.8) rotate(-90)" x="-24.5" y="2.95" class="a" textLength="49" lengthAdjust="spacingAndGlyphs">Case Number</text>
<text x="138.6" y="1453.8" class="h" textLength="106.5" lengthAdjust="spacingAndGlyphs">Total Deaths (The UK)</text>
<text transform="translate(3.41 1445.11) scale(1.0658 0.9598)" class="l">o</text>
<text transform="translate(24.07 1443.8) scale(0.7300 0.9972)" class="l2">)</text>
<path d="M445.6 1597.2H778.9M445.6 1578.76H778.9M445.6 1560.31H778.9M445.6 1541.87H778.9M445.6 1523.43H778.9M445.6 1504.99H778.9M445.6 1486.54H778.9M445.6 1468.1H778.9" stroke="#D2D2D2" stroke-width="1.3" fill="none"/>
<path d="M445.6 1597.2v2.6M468.93 1597.2v2.6M492.26 1597.2v2.6M515.59 1597.2v2.6M538.92 1597.2v2.6M562.25 1597.2v2.6M585.59 1597.2v2.6M608.92 1597.2v2.6M632.25 1597.2v2.6M655.58 1597.2v2.6M678.91 1597.2v2.6M702.24 1597.2v2.6M725.57 1597.2v2.6M748.9 1597.2v2.6M772.23 1597.2v2.6" stroke="#D2D2D2" stroke-width="0.8" fill="none"/>
<path d="M619.25 1597.2h2.67v-1.11h-2.67zM622.58 1597.2h2.67v-1.29h-2.67zM625.92 1597.2h2.67v-1.84h-2.67zM629.25 1597.2h2.67v-1.48h-2.67zM632.58 1597.2h2.67v-2.77h-2.67zM635.91 1597.2h2.67v-3.5h-2.67zM639.25 1597.2h2.67v-2.77h-2.67zM642.58 1597.2h2.67v-4.61h-2.67zM645.91 1597.2h2.67v-2.31h-2.67zM649.25 1597.2h2.67v-5.53h-2.67zM652.58 1597.2h2.67v-11.99h-2.67zM655.91 1597.2h2.67v-16.6h-2.67zM659.25 1597.2h2.67v-16.6h-2.67zM662.58 1597.2h2.67v-25.82h-2.67zM665.91 1597.2h2.67v-26.28h-2.67zM669.24 1597.2h2.67v-19.37h-2.67zM672.58 1597.2h2.67v-34.12h-2.67zM675.91 1597.2h2.67v-34.58h-2.67zM679.24 1597.2h2.67v-60.86h-2.67zM682.58 1597.2h2.67v-59.02h-2.67zM685.91 1597.2h2.67v-65.47h-2.67zM689.24 1597.2h2.67v-69.16h-2.67zM692.58 1597.2h2.67v-59.02h-2.67zM695.91 1597.2h2.67v-53.02h-2.67zM699.24 1597.2h2.67v-94.98h-2.67zM702.57 1597.2h2.67v-94.98h-2.67zM705.91 1597.2h2.67v-101.44h-2.67zM709.24 1597.2h2.67v-106.05h-2.67zM712.57 1597.2h2.67v-76.54h-2.67zM715.91 1597.2h2.67v-62.71h-2.67zM719.24 1597.2h2.67v-68.24h-2.67zM722.57 1597.2h2.67v-95.9h-2.67zM725.91 1597.2h2.67v-77.46h-2.67zM729.24 1597.2h2.67v-94.06h-2.67zM732.57 1597.2h2.67v-87.6h-2.67zM735.9 1597.2h2.67v-101.44h-2.67zM739.24 1597.2h2.67v-46.11h-2.67zM742.57 1597.2h2.67v-50.72h-2.67zM745.9 1597.2h2.67v-107.89h-2.67zM749.24 1597.2h2.67v-76.54h-2.67zM752.57 1597.2h2.67v-67.32h-2.67zM755.9 1597.2h2.67v-92.21h-2.67zM759.24 1597.2h2.67v-76.54h-2.67zM762.57 1597.2h2.67v-37.81h-2.67zM765.9 1597.2h2.67v-32.28h-2.67zM769.23 1597.2h2.67v-82.99h-2.67zM772.57 1597.2h2.67v-72.85h-2.67zM775.9 1597.2h2.67v-61.78h-2.67z" fill="#FF0000"/>
<path d="M445.6 1597.2H778.9" stroke="#D2D2D2" stroke-width="1.3" fill="none"/>
<text x="434.2" y="1599.79" class="t" textLength="3.9" lengthAdjust="spacingAndGlyphs">0</text>
<text x="426.39" y="1581.35" class="t" textLength="11.71" lengthAdjust="spacingAndGlyphs">200</text>
<text x="426.39" y="1562.91" class="t" textLength="11.71" lengthAdjust="spacingAndGlyphs">400</text>
<text x="426.39" y="1544.46" class="t" textLength="11.71" lengthAdjust="spacingAndGlyphs">600</text>
<text x="426.39" y="1526.02" class="t" textLength="11.71" lengthAdjust="spacingAndGlyphs">800</text>
<text x="422.48" y="1507.58" class="t" textLength="15.62" lengthAdjust="spacingAndGlyphs">1000</text>
<text x="422.48" y="1489.13" class="t" textLength="15.62" lengthAdjust="spacingAndGlyphs">1200</text>
<text x="422.48" y="1470.69" class="t" textLength="15.62" lengthAdjust="spacingAndGlyphs">1400</text>
<text x="439.92" y="1610.42" class="t" textLength="14.68" lengthAdjust="spacingAndGlyphs">1/22</text>
<text x="463.26" y="1610.42" class="t" textLength="14.68" lengthAdjust="spacingAndGlyphs">1/29</text>
<text x="488.54" y="1610.42" class="t" textLength="10.78" lengthAdjust="spacingAndGlyphs">2/5</text>
<text x="509.92" y="1610.42" class="t" textLength="14.68" lengthAdjust="spacingAndGlyphs">2/12</text>
<text x="533.25" y="1610.42" class="t" textLength="14.68" lengthAdjust="spacingAndGlyphs">2/19</text>
<text x="556.58" y="1610.42" class="t" textLength="14.68" lengthAdjust="spacingAndGlyphs">2/26</text>
<text x="581.86" y="1610.42" class="t" textLength="10.78" lengthAdjust="spacingAndGlyphs">3/4</text>
<text x="603.24" y="1610.42" class="t" textLength="14.68" lengthAdjust="spacingAndGlyphs">3/11</text>
<text x="626.57" y="1610.42" class="t" textLength="14.68" lengthAdjust="spacingAndGlyphs">3/18</text>
<text x="649.9" y="1610.42" class="t" textLength="14.68" lengthAdjust="spacingAndGlyphs">3/25</text>
<text x="675.19" y="1610.42" class="t" textLength="10.78" lengthAdjust="spacingAndGlyphs">4/1</text>
<text x="698.52" y="1610.42" class="t" textLength="10.78" lengthAdjust="spacingAndGlyphs">4/8</text>
<text x="719.9" y="1610.42" class="t" textLength="14.68" lengthAdjust="spacingAndGlyphs">4/15</text>
<text x="743.23" y="1610.42" class="t" textLength="14.68" lengthAdjust="spacingAndGlyphs">4/22</text>
<text x="766.56" y="1610.42" class="t" textLength="14.68" lengthAdjust="spacingAndGlyphs">4/29</text>
<text x="603.85" y="1623.45" class="a" textLength="16.3" lengthAdjust="spacingAndGlyphs">Date</text>
<text transform="translate(414.3 1532.8) rotate(-90)" x="-24.5" y="2.95" class="a" textLength="49" lengthAdjust="spacingAndGlyphs">Case Number</text>
<text x="540.4" y="1453.3" class="h" textLength="105.2" lengthAdjust="spacingAndGlyphs">New Deaths (The UK)</text>
<text transform="translate(405.04 1447.38) scale(1.0831 1.0607)" class="l">p</text>
<text transform="translate(426.66 1446.21) scale(0.7908 1.1045)" class="l2">)</text>
<path d="M64.4 1808H371.5M64.4 1794.51H371.5M64.4 1781.02H371.5M64.4 1767.53H371.5M64.4 1754.04H371.5M64.4 1740.55H371.5M64.4 1727.06H371.5M64.4 1713.57H371.5M64.4 1700.08H371.5M64.4 1686.59H371.5M64.4 1673.1H371.5" stroke="#D2D2D2" stroke-width="1.3" fill="none"/>
<path d="M64.4 1808v2.6M85.9 1808v2.6M107.39 1808v2.6M128.89 1808v2.6M150.39 1808v2.6M171.88 1808v2.6M193.38 1808v2.6M214.88 1808v2.6M236.38 1808v2.6M257.87 1808v2.6M279.37 1808v2.6M300.87 1808v2.6M322.36 1808v2.6M343.86 1808v2.6M365.36 1808v2.6" stroke="#D2D2D2" stroke-width="0.8" fill="none"/>
<path d="M234.07 1808h1.54v-0.43h-1.54zM237.14 1808h1.54v-0.5h-1.54zM240.21 1808h1.54v-0.84h-1.54zM243.29 1808h1.54v-1.07h-1.54zM246.36 1808h1.54v-1.38h-1.54zM249.43 1808h1.54v-2.09h-1.54zM252.5 1808h1.54v-2.6h-1.54zM255.57 1808h1.54v-3.03h-1.54zM258.64 1808h1.54v-3.45h-1.54zM261.71 1808h1.54v-4.03h-1.54zM264.78 1808h1.54v-4.61h-1.54zM267.85 1808h1.54v-5.27h-1.54zM270.92 1808h1.54v-5.74h-1.54zM274 1808h1.54v-6.18h-1.54zM277.07 1808h1.54v-7.71h-1.54zM280.14 1808h1.54v-9.22h-1.54zM283.21 1808h1.54v-10.85h-1.54zM286.28 1808h1.54v-12.22h-1.54zM289.35 1808h1.54v-13.98h-1.54zM292.42 1808h1.54v-15.01h-1.54zM295.49 1808h1.54v-16.41h-1.54zM298.56 1808h1.54v-18.93h-1.54zM301.63 1808h1.54v-21.81h-1.54zM304.71 1808h1.54v-24.41h-1.54zM307.78 1808h1.54v-26.49h-1.54zM310.85 1808h1.54v-27.96h-1.54zM313.92 1808h1.54v-29.94h-1.54zM316.99 1808h1.54v-31.61h-1.54zM320.06 1808h1.54v-34.08h-1.54zM323.13 1808h1.54v-38.2h-1.54zM326.2 1808h1.54v-41.04h-1.54zM329.27 1808h1.54v-45.44h-1.54zM332.34 1808h1.54v-49.45h-1.54zM335.42 1808h1.54v-52.14h-1.54zM338.49 1808h1.54v-54.96h-1.54zM341.56 1808h1.54v-58.11h-1.54zM344.63 1808h1.54v-61.73h-1.54zM347.7 1808h1.54v-67.5h-1.54zM350.77 1808h1.54v-72.9h-1.54zM353.84 1808h1.54v-80.03h-1.54zM356.91 1808h1.54v-84.97h-1.54zM359.98 1808h1.54v-90.98h-1.54zM363.05 1808h1.54v-98.79h-1.54zM366.13 1808h1.54v-107.5h-1.54zM369.2 1808h1.54v-117.62h-1.54z" fill="#4472C4"/>
<path d="M64.4 1808H371.5" stroke="#D2D2D2" stroke-width="1.3" fill="none"/>
<text x="53.2" y="1810.59" class="t" textLength="3.9" lengthAdjust="spacingAndGlyphs">0</text>
<text x="37.58" y="1797.1" class="t" textLength="19.52" lengthAdjust="spacingAndGlyphs">10000</text>
<text x="37.58" y="1783.61" class="t" textLength="19.52" lengthAdjust="spacingAndGlyphs">20000</text>
<text x="37.58" y="1770.12" class="t" textLength="19.52" lengthAdjust="spacingAndGlyphs">30000</text>
<text x="37.58" y="1756.63" class="t" textLength="19.52" lengthAdjust="spacingAndGlyphs">40000</text>
<text x="37.58" y="1743.14" class="t" textLength="19.52" lengthAdjust="spacingAndGlyphs">50000</text>
<text x="37.58" y="1729.65" class="t" textLength="19.52" lengthAdjust="spacingAndGlyphs">60000</text>
<text x="37.58" y="1716.16" class="t" textLength="19.52" lengthAdjust="spacingAndGlyphs">70000</text>
<text x="37.58" y="1702.67" class="t" textLength="19.52" lengthAdjust="spacingAndGlyphs">80000</text>
<text x="37.58" y="1689.18" class="t" textLength="19.52" lengthAdjust="spacingAndGlyphs">90000</text>
<text x="33.68" y="1675.69" class="t" textLength="23.42" lengthAdjust="spacingAndGlyphs">100000</text>
<text x="58.59" y="1820.42" class="t" textLength="14.68" lengthAdjust="spacingAndGlyphs">1/22</text>
<text x="80.09" y="1820.42" class="t" textLength="14.68" lengthAdjust="spacingAndGlyphs">1/29</text>
<text x="103.54" y="1820.42" class="t" textLength="10.78" lengthAdjust="spacingAndGlyphs">2/5</text>
<text x="123.08" y="1820.42" class="t" textLength="14.68" lengthAdjust="spacingAndGlyphs">2/12</text>
<text x="144.58" y="1820.42" class="t" textLength="14.68" lengthAdjust="spacingAndGlyphs">2/19</text>
<text x="166.08" y="1820.42" class="t" textLength="14.68" lengthAdjust="spacingAndGlyphs">2/26</text>
<text x="189.53" y="1820.42" class="t" textLength="10.78" lengthAdjust="spacingAndGlyphs">3/4</text>
<text x="209.07" y="1820.42" class="t" textLength="14.68" lengthAdjust="spacingAndGlyphs">3/11</text>
<text x="230.57" y="1820.42" class="t" textLength="14.68" lengthAdjust="spacingAndGlyphs">3/18</text>
<text x="252.07" y="1820.42" class="t" textLength="14.68" lengthAdjust="spacingAndGlyphs">3/25</text>
<text x="275.52" y="1820.42" class="t" textLength="10.78" lengthAdjust="spacingAndGlyphs">4/1</text>
<text x="297.01" y="1820.42" class="t" textLength="10.78" lengthAdjust="spacingAndGlyphs">4/8</text>
<text x="316.56" y="1820.42" class="t" textLength="14.68" lengthAdjust="spacingAndGlyphs">4/15</text>
<text x="338.05" y="1820.42" class="t" textLength="14.68" lengthAdjust="spacingAndGlyphs">4/22</text>
<text x="359.55" y="1820.42" class="t" textLength="14.68" lengthAdjust="spacingAndGlyphs">4/29</text>
<text x="180.25" y="1835.45" class="a" textLength="16.3" lengthAdjust="spacingAndGlyphs">Date</text>
<text transform="translate(25.1 1740.3) rotate(-90)" x="-24.5" y="2.95" class="a" textLength="49" lengthAdjust="spacingAndGlyphs">Case Number</text>
<text x="121.6" y="1658.3" class="h" textLength="147.3" lengthAdjust="spacingAndGlyphs">Total Confirmed Cases (Brazil)</text>
<text transform="translate(3.86 1661.71) scale(1.1035 1.0556)" class="l">q</text>
<text transform="translate(25.46 1660.84) scale(0.7908 1.1149)" class="l2">)</text>
<path d="M452 1812.2H768.3M452 1795.44H768.3M452 1778.67H768.3M452 1761.91H768.3M452 1745.15H768.3M452 1728.39H768.3M452 1711.62H768.3M452 1694.86H768.3M452 1678.1H768.3" stroke="#D2D2D2" stroke-width="1.3" fill="none"/>
<path d="M452 1812.2v2.6M474.14 1812.2v2.6M496.28 1812.2v2.6M518.42 1812.2v2.6M540.56 1812.2v2.6M562.7 1812.2v2.6M584.85 1812.2v2.6M606.99 1812.2v2.6M629.13 1812.2v2.6M651.27 1812.2v2.6M673.41 1812.2v2.6M695.55 1812.2v2.6M717.69 1812.2v2.6M739.83 1812.2v2.6M761.97 1812.2v2.6" stroke="#D2D2D2" stroke-width="0.8" fill="none"/>
<path d="M614.1 1812.2h1.58v-1.66h-1.58zM623.59 1812.2h1.58v-0.64h-1.58zM626.76 1812.2h1.58v-2.03h-1.58zM629.92 1812.2h1.58v-0.85h-1.58zM633.08 1812.2h1.58v-4.17h-1.58zM636.24 1812.2h1.58v-2.88h-1.58zM639.41 1812.2h1.58v-3.82h-1.58zM642.57 1812.2h1.58v-8.8h-1.58zM645.73 1812.2h1.58v-6.34h-1.58zM648.9 1812.2h1.58v-5.41h-1.58zM652.06 1812.2h1.58v-5.15h-1.58zM655.22 1812.2h1.58v-7.22h-1.58zM658.39 1812.2h1.58v-7.24h-1.58zM661.55 1812.2h1.58v-8.16h-1.58zM664.71 1812.2h1.58v-5.9h-1.58zM667.87 1812.2h1.58v-5.41h-1.58zM671.04 1812.2h1.58v-19.08h-1.58zM674.2 1812.2h1.58v-18.76h-1.58zM677.36 1812.2h1.58v-20.25h-1.58zM680.53 1812.2h1.58v-16.96h-1.58zM683.69 1812.2h1.58v-21.86h-1.58zM686.85 1812.2h1.58v-12.91h-1.58zM690.02 1812.2h1.58v-17.28h-1.58zM693.18 1812.2h1.58v-31.4h-1.58zM696.34 1812.2h1.58v-35.8h-1.58zM699.5 1812.2h1.58v-32.22h-1.58zM702.67 1812.2h1.58v-25.91h-1.58zM705.83 1812.2h1.58v-18.25h-1.58zM708.99 1812.2h1.58v-24.56h-1.58zM712.16 1812.2h1.58v-20.75h-1.58zM715.32 1812.2h1.58v-30.71h-1.58zM718.48 1812.2h1.58v-51.26h-1.58zM721.65 1812.2h1.58v-35.29h-1.58zM724.81 1812.2h1.58v-54.6h-1.58zM727.97 1812.2h1.58v-49.89h-1.58zM731.13 1812.2h1.58v-33.46h-1.58zM734.3 1812.2h1.58v-35.02h-1.58zM737.46 1812.2h1.58v-39.16h-1.58zM740.62 1812.2h1.58v-44.89h-1.58zM743.79 1812.2h1.58v-71.73h-1.58zM746.95 1812.2h1.58v-67.17h-1.58zM750.11 1812.2h1.58v-88.52h-1.58zM753.28 1812.2h1.58v-61.37h-1.58zM756.44 1812.2h1.58v-74.78h-1.58zM759.6 1812.2h1.58v-97.04h-1.58zM762.76 1812.2h1.58v-108.12h-1.58zM765.93 1812.2h1.58v-125.75h-1.58z" fill="#4472C4"/>
<path d="M452 1812.2H768.3" stroke="#D2D2D2" stroke-width="1.3" fill="none"/>
<text x="440" y="1814.79" class="t" textLength="3.9" lengthAdjust="spacingAndGlyphs">0</text>
<text x="428.28" y="1798.03" class="t" textLength="15.62" lengthAdjust="spacingAndGlyphs">1000</text>
<text x="428.28" y="1781.27" class="t" textLength="15.62" lengthAdjust="spacingAndGlyphs">2000</text>
<text x="428.28" y="1764.5" class="t" textLength="15.62" lengthAdjust="spacingAndGlyphs">3000</text>
<text x="428.28" y="1747.74" class="t" textLength="15.62" lengthAdjust="spacingAndGlyphs">4000</text>
<text x="428.28" y="1730.98" class="t" textLength="15.62" lengthAdjust="spacingAndGlyphs">5000</text>
<text x="428.28" y="1714.22" class="t" textLength="15.62" lengthAdjust="spacingAndGlyphs">6000</text>
<text x="428.28" y="1697.45" class="t" textLength="15.62" lengthAdjust="spacingAndGlyphs">7000</text>
<text x="428.28" y="1680.69" class="t" textLength="15.62" lengthAdjust="spacingAndGlyphs">8000</text>
<text x="446.24" y="1825.92" class="t" textLength="14.68" lengthAdjust="spacingAndGlyphs">1/22</text>
<text x="468.38" y="1825.92" class="t" textLength="14.68" lengthAdjust="spacingAndGlyphs">1/29</text>
<text x="492.47" y="1825.92" class="t" textLength="10.78" lengthAdjust="spacingAndGlyphs">2/5</text>
<text x="512.66" y="1825.92" class="t" textLength="14.68" lengthAdjust="spacingAndGlyphs">2/12</text>
<text x="534.8" y="1825.92" class="t" textLength="14.68" lengthAdjust="spacingAndGlyphs">2/19</text>
<text x="556.94" y="1825.92" class="t" textLength="14.68" lengthAdjust="spacingAndGlyphs">2/26</text>
<text x="581.04" y="1825.92" class="t" textLength="10.78" lengthAdjust="spacingAndGlyphs">3/4</text>
<text x="601.23" y="1825.92" class="t" textLength="14.68" lengthAdjust="spacingAndGlyphs">3/11</text>
<text x="623.37" y="1825.92" class="t" textLength="14.68" lengthAdjust="spacingAndGlyphs">3/18</text>
<text x="645.51" y="1825.92" class="t" textLength="14.68" lengthAdjust="spacingAndGlyphs">3/25</text>
<text x="669.6" y="1825.92" class="t" textLength="10.78" lengthAdjust="spacingAndGlyphs">4/1</text>
<text x="691.74" y="1825.92" class="t" textLength="10.78" lengthAdjust="spacingAndGlyphs">4/8</text>
<text x="711.93" y="1825.92" class="t" textLength="14.68" lengthAdjust="spacingAndGlyphs">4/15</text>
<text x="734.07" y="1825.92" class="t" textLength="14.68" lengthAdjust="spacingAndGlyphs">4/22</text>
<text x="756.21" y="1825.92" class="t" textLength="14.68" lengthAdjust="spacingAndGlyphs">4/29</text>
<text x="570.35" y="1840.95" class="a" textLength="16.3" lengthAdjust="spacingAndGlyphs">Date</text>
<text transform="translate(420 1745.3) rotate(-90)" x="-24.5" y="2.95" class="a" textLength="49" lengthAdjust="spacingAndGlyphs">Case Number</text>
<text x="517.8" y="1663.8" class="h" textLength="146.1" lengthAdjust="spacingAndGlyphs">New Confirmed Cases (Brazil)</text>
<text transform="translate(410.16 1659.8) scale(1.1355 1.0012)" class="l">r</text>
<text transform="translate(424.17 1658.67) scale(0.7178 1.0180)" class="l2">)</text>
<path d="M54.6 2020H373.1M54.6 2000.84H373.1M54.6 1981.69H373.1M54.6 1962.53H373.1M54.6 1943.37H373.1M54.6 1924.21H373.1M54.6 1905.06H373.1M54.6 1885.9H373.1" stroke="#D2D2D2" stroke-width="1.3" fill="none"/>
<path d="M54.6 2020v2.6M76.9 2020v2.6M99.19 2020v2.6M121.49 2020v2.6M143.78 2020v2.6M166.08 2020v2.6M188.37 2020v2.6M210.66 2020v2.6M232.96 2020v2.6M255.25 2020v2.6M277.55 2020v2.6M299.85 2020v2.6M322.14 2020v2.6M344.44 2020v2.6M366.73 2020v2.6" stroke="#D2D2D2" stroke-width="0.8" fill="none"/>
<path d="M246.46 2020h1.66v-0.48h-1.66zM249.65 2020h1.66v-0.65h-1.66zM252.83 2020h1.66v-0.88h-1.66zM256.02 2020h1.66v-1.13h-1.66zM259.2 2020h1.66v-1.48h-1.66zM262.39 2020h1.66v-1.76h-1.66zM265.57 2020h1.66v-2.13h-1.66zM268.76 2020h1.66v-2.61h-1.66zM271.94 2020h1.66v-3.05h-1.66zM275.13 2020h1.66v-3.85h-1.66zM278.31 2020h1.66v-4.6h-1.66zM281.5 2020h1.66v-6.21h-1.66zM284.68 2020h1.66v-6.88h-1.66zM287.87 2020h1.66v-8.52h-1.66zM291.05 2020h1.66v-9.31h-1.66zM294.24 2020h1.66v-10.8h-1.66zM297.42 2020h1.66v-13.14h-1.66zM300.61 2020h1.66v-15.69h-1.66zM303.79 2020h1.66v-18.2h-1.66zM306.98 2020h1.66v-20.25h-1.66zM310.16 2020h1.66v-21.53h-1.66zM313.35 2020h1.66v-23.43h-1.66zM316.53 2020h1.66v-25.44h-1.66zM319.72 2020h1.66v-29.35h-1.66zM322.9 2020h1.66v-33.26h-1.66zM326.09 2020h1.66v-36.86h-1.66zM329.27 2020h1.66v-41.02h-1.66zM332.46 2020h1.66v-45.1h-1.66zM335.64 2020h1.66v-47.16h-1.66zM338.83 2020h1.66v-49.56h-1.66zM342.01 2020h1.66v-52.51h-1.66zM345.2 2020h1.66v-55.67h-1.66zM348.38 2020h1.66v-63.81h-1.66zM351.57 2020h1.66v-70.96h-1.66zM354.75 2020h1.66v-77.72h-1.66zM357.94 2020h1.66v-82.11h-1.66zM361.12 2020h1.66v-88.18h-1.66zM364.31 2020h1.66v-97.38h-1.66zM367.49 2020h1.66v-105.61h-1.66zM370.68 2020h1.66v-115.06h-1.66z" fill="#FF0000"/>
<path d="M54.6 2020H373.1" stroke="#D2D2D2" stroke-width="1.3" fill="none"/>
<text x="43.7" y="2022.59" class="t" textLength="3.9" lengthAdjust="spacingAndGlyphs">0</text>
<text x="31.98" y="2003.43" class="t" textLength="15.62" lengthAdjust="spacingAndGlyphs">1000</text>
<text x="31.98" y="1984.28" class="t" textLength="15.62" lengthAdjust="spacingAndGlyphs">2000</text>
<text x="31.98" y="1965.12" class="t" textLength="15.62" lengthAdjust="spacingAndGlyphs">3000</text>
<text x="31.98" y="1945.96" class="t" textLength="15.62" lengthAdjust="spacingAndGlyphs">4000</text>
<text x="31.98" y="1926.81" class="t" textLength="15.62" lengthAdjust="spacingAndGlyphs">5000</text>
<text x="31.98" y="1907.65" class="t" textLength="15.62" lengthAdjust="spacingAndGlyphs">6000</text>
<text x="31.98" y="1888.49" class="t" textLength="15.62" lengthAdjust="spacingAndGlyphs">7000</text>
<text x="48.85" y="2032.12" class="t" textLength="14.68" lengthAdjust="spacingAndGlyphs">1/22</text>
<text x="71.15" y="2032.12" class="t" textLength="14.68" lengthAdjust="spacingAndGlyphs">1/29</text>
<text x="95.39" y="2032.12" class="t" textLength="10.78" lengthAdjust="spacingAndGlyphs">2/5</text>
<text x="115.74" y="2032.12" class="t" textLength="14.68" lengthAdjust="spacingAndGlyphs">2/12</text>
<text x="138.03" y="2032.12" class="t" textLength="14.68" lengthAdjust="spacingAndGlyphs">2/19</text>
<text x="160.33" y="2032.12" class="t" textLength="14.68" lengthAdjust="spacingAndGlyphs">2/26</text>
<text x="184.57" y="2032.12" class="t" textLength="10.78" lengthAdjust="spacingAndGlyphs">3/4</text>
<text x="204.92" y="2032.12" class="t" textLength="14.68" lengthAdjust="spacingAndGlyphs">3/11</text>
<text x="227.21" y="2032.12" class="t" textLength="14.68" lengthAdjust="spacingAndGlyphs">3/18</text>
<text x="249.51" y="2032.12" class="t" textLength="14.68" lengthAdjust="spacingAndGlyphs">3/25</text>
<text x="273.75" y="2032.12" class="t" textLength="10.78" lengthAdjust="spacingAndGlyphs">4/1</text>
<text x="296.05" y="2032.12" class="t" textLength="10.78" lengthAdjust="spacingAndGlyphs">4/8</text>
<text x="316.39" y="2032.12" class="t" textLength="14.68" lengthAdjust="spacingAndGlyphs">4/15</text>
<text x="338.69" y="2032.12" class="t" textLength="14.68" lengthAdjust="spacingAndGlyphs">4/22</text>
<text x="360.98" y="2032.12" class="t" textLength="14.68" lengthAdjust="spacingAndGlyphs">4/29</text>
<text x="181.65" y="2047.95" class="a" textLength="16.3" lengthAdjust="spacingAndGlyphs">Date</text>
<text transform="translate(24.3 1952.8) rotate(-90)" x="-24.5" y="2.95" class="a" textLength="49" lengthAdjust="spacingAndGlyphs">Case Number</text>
<text x="145.4" y="1871.3" class="h" textLength="99.2" lengthAdjust="spacingAndGlyphs">Total Deaths (Brazil)</text>
<text transform="translate(7.01 1870.7) scale(0.7990 0.9800)" class="l">s</text>
<text transform="translate(22.27 1870.03) scale(0.7300 1.0076)" class="l2">)</text>
<path d="M448.9 2019.9H768.6M448.9 1997.52H768.6M448.9 1975.13H768.6M448.9 1952.75H768.6M448.9 1930.37H768.6M448.9 1907.98H768.6M448.9 1885.6H768.6" stroke="#D2D2D2" stroke-width="1.3" fill="none"/>
<path d="M448.9 2019.9v2.6M471.28 2019.9v2.6M493.66 2019.9v2.6M516.04 2019.9v2.6M538.42 2019.9v2.6M560.79 2019.9v2.6M583.17 2019.9v2.6M605.55 2019.9v2.6M627.93 2019.9v2.6M650.31 2019.9v2.6M672.69 2019.9v2.6M695.07 2019.9v2.6M717.45 2019.9v2.6M739.83 2019.9v2.6M762.21 2019.9v2.6" stroke="#D2D2D2" stroke-width="0.8" fill="none"/>
<path d="M628.25 2019.9h2.56v-0.45h-2.56zM631.45 2019.9h2.56v-0.67h-2.56zM634.65 2019.9h2.56v-1.12h-2.56zM637.84 2019.9h2.56v-0.9h-2.56zM641.04 2019.9h2.56v-2.24h-2.56zM644.24 2019.9h2.56v-2.01h-2.56zM647.43 2019.9h2.56v-2.69h-2.56zM650.63 2019.9h2.56v-2.91h-2.56zM653.83 2019.9h2.56v-4.03h-2.56zM657.02 2019.9h2.56v-3.36h-2.56zM660.22 2019.9h2.56v-4.25h-2.56zM663.42 2019.9h2.56v-5.6h-2.56zM666.62 2019.9h2.56v-5.15h-2.56zM669.81 2019.9h2.56v-9.4h-2.56zM673.01 2019.9h2.56v-8.73h-2.56zM676.21 2019.9h2.56v-18.8h-2.56zM679.4 2019.9h2.56v-7.83h-2.56zM682.6 2019.9h2.56v-19.25h-2.56zM685.8 2019.9h2.56v-9.18h-2.56zM688.99 2019.9h2.56v-17.46h-2.56zM692.19 2019.9h2.56v-27.31h-2.56zM695.39 2019.9h2.56v-29.77h-2.56zM698.59 2019.9h2.56v-29.32h-2.56zM701.78 2019.9h2.56v-23.95h-2.56zM704.98 2019.9h2.56v-15h-2.56zM708.18 2019.9h2.56v-22.16h-2.56zM711.37 2019.9h2.56v-23.5h-2.56zM714.57 2019.9h2.56v-45.66h-2.56zM717.77 2019.9h2.56v-45.66h-2.56zM720.96 2019.9h2.56v-42.08h-2.56zM724.16 2019.9h2.56v-48.57h-2.56zM727.36 2019.9h2.56v-47.68h-2.56zM730.56 2019.9h2.56v-24.17h-2.56zM733.75 2019.9h2.56v-27.98h-2.56zM736.95 2019.9h2.56v-34.47h-2.56zM740.15 2019.9h2.56v-36.93h-2.56zM743.34 2019.9h2.56v-95.13h-2.56zM746.54 2019.9h2.56v-83.49h-2.56zM749.74 2019.9h2.56v-79.01h-2.56zM752.93 2019.9h2.56v-51.26h-2.56zM756.13 2019.9h2.56v-70.96h-2.56zM759.33 2019.9h2.56v-107.44h-2.56zM762.53 2019.9h2.56v-96.25h-2.56zM765.72 2019.9h2.56v-110.35h-2.56z" fill="#FF0000"/>
<path d="M448.9 2019.9H768.6" stroke="#D2D2D2" stroke-width="1.3" fill="none"/>
<text x="437.5" y="2022.49" class="t" textLength="3.9" lengthAdjust="spacingAndGlyphs">0</text>
<text x="429.69" y="2000.11" class="t" textLength="11.71" lengthAdjust="spacingAndGlyphs">100</text>
<text x="429.69" y="1977.73" class="t" textLength="11.71" lengthAdjust="spacingAndGlyphs">200</text>
<text x="429.69" y="1955.34" class="t" textLength="11.71" lengthAdjust="spacingAndGlyphs">300</text>
<text x="429.69" y="1932.96" class="t" textLength="11.71" lengthAdjust="spacingAndGlyphs">400</text>
<text x="429.69" y="1910.58" class="t" textLength="11.71" lengthAdjust="spacingAndGlyphs">500</text>
<text x="429.69" y="1888.19" class="t" textLength="11.71" lengthAdjust="spacingAndGlyphs">600</text>
<text x="443.16" y="2032.92" class="t" textLength="14.68" lengthAdjust="spacingAndGlyphs">1/22</text>
<text x="465.54" y="2032.92" class="t" textLength="14.68" lengthAdjust="spacingAndGlyphs">1/29</text>
<text x="489.87" y="2032.92" class="t" textLength="10.78" lengthAdjust="spacingAndGlyphs">2/5</text>
<text x="510.29" y="2032.92" class="t" textLength="14.68" lengthAdjust="spacingAndGlyphs">2/12</text>
<text x="532.67" y="2032.92" class="t" textLength="14.68" lengthAdjust="spacingAndGlyphs">2/19</text>
<text x="555.05" y="2032.92" class="t" textLength="14.68" lengthAdjust="spacingAndGlyphs">2/26</text>
<text x="579.38" y="2032.92" class="t" textLength="10.78" lengthAdjust="spacingAndGlyphs">3/4</text>
<text x="599.81" y="2032.92" class="t" textLength="14.68" lengthAdjust="spacingAndGlyphs">3/11</text>
<text x="622.19" y="2032.92" class="t" textLength="14.68" lengthAdjust="spacingAndGlyphs">3/18</text>
<text x="644.57" y="2032.92" class="t" textLength="14.68" lengthAdjust="spacingAndGlyphs">3/25</text>
<text x="668.9" y="2032.92" class="t" textLength="10.78" lengthAdjust="spacingAndGlyphs">4/1</text>
<text x="691.28" y="2032.92" class="t" textLength="10.78" lengthAdjust="spacingAndGlyphs">4/8</text>
<text x="711.7" y="2032.92" class="t" textLength="14.68" lengthAdjust="spacingAndGlyphs">4/15</text>
<text x="734.08" y="2032.92" class="t" textLength="14.68" lengthAdjust="spacingAndGlyphs">4/22</text>
<text x="756.46" y="2032.92" class="t" textLength="14.68" lengthAdjust="spacingAndGlyphs">4/29</text>
<text x="575.35" y="2048.45" class="a" textLength="16.3" lengthAdjust="spacingAndGlyphs">Date</text>
<text transform="translate(422 1952.8) rotate(-90)" x="-24.5" y="2.95" class="a" textLength="49" lengthAdjust="spacingAndGlyphs">Case Number</text>
<text x="543.4" y="1870.8" class="h" textLength="97.2" lengthAdjust="spacingAndGlyphs">New Deaths (Brazil)</text>
<text transform="translate(409.68 1871.05) scale(1.3137 1.0353)" class="l">t</text>
<text transform="translate(424.17 1870.5) scale(0.7178 1.0284)" class="l2">)</text>
<path d="M41.4 2234.7H370M41.4 2220.5H370M41.4 2206.3H370M41.4 2192.1H370M41.4 2177.9H370M41.4 2163.7H370M41.4 2149.5H370M41.4 2135.3H370M41.4 2121.1H370M41.4 2106.9H370" stroke="#D2D2D2" stroke-width="1.3" fill="none"/>
<path d="M41.4 2234.7v2.6M64.4 2234.7v2.6M87.4 2234.7v2.6M110.41 2234.7v2.6M133.41 2234.7v2.6M156.41 2234.7v2.6M179.41 2234.7v2.6M202.41 2234.7v2.6M225.42 2234.7v2.6M248.42 2234.7v2.6M271.42 2234.7v2.6M294.42 2234.7v2.6M317.42 2234.7v2.6M340.43 2234.7v2.6M363.43 2234.7v2.6" stroke="#D2D2D2" stroke-width="0.8" fill="none"/>
<path d="M232.81 2234.7h1.64v-2.84h-1.64zM236.1 2234.7h1.64v-2.84h-1.64zM239.38 2234.7h1.64v-2.84h-1.64zM242.67 2234.7h1.64v-8.52h-1.64zM245.95 2234.7h1.64v-9.94h-1.64zM249.24 2234.7h1.64v-11.36h-1.64zM252.53 2234.7h1.64v-11.36h-1.64zM255.81 2234.7h1.64v-11.36h-1.64zM259.1 2234.7h1.64v-11.36h-1.64zM262.38 2234.7h1.64v-21.3h-1.64zM265.67 2234.7h1.64v-21.3h-1.64zM268.96 2234.7h1.64v-21.3h-1.64zM272.24 2234.7h1.64v-22.72h-1.64zM275.53 2234.7h1.64v-22.72h-1.64zM278.81 2234.7h1.64v-25.56h-1.64zM282.1 2234.7h1.64v-28.4h-1.64zM285.39 2234.7h1.64v-29.82h-1.64zM288.67 2234.7h1.64v-34.08h-1.64zM291.96 2234.7h1.64v-35.5h-1.64zM295.24 2234.7h1.64v-38.34h-1.64zM298.53 2234.7h1.64v-42.6h-1.64zM301.82 2234.7h1.64v-44.02h-1.64zM305.1 2234.7h1.64v-46.86h-1.64zM308.39 2234.7h1.64v-46.86h-1.64zM311.67 2234.7h1.64v-56.8h-1.64zM314.96 2234.7h1.64v-56.8h-1.64zM318.25 2234.7h1.64v-58.22h-1.64zM321.53 2234.7h1.64v-58.22h-1.64zM324.82 2234.7h1.64v-61.06h-1.64zM328.1 2234.7h1.64v-62.48h-1.64zM331.39 2234.7h1.64v-66.74h-1.64zM334.68 2234.7h1.64v-80.94h-1.64zM337.96 2234.7h1.64v-80.94h-1.64zM341.25 2234.7h1.64v-88.04h-1.64zM344.53 2234.7h1.64v-102.24h-1.64zM347.82 2234.7h1.64v-102.24h-1.64zM351.11 2234.7h1.64v-102.24h-1.64zM354.39 2234.7h1.64v-105.08h-1.64zM357.68 2234.7h1.64v-107.92h-1.64zM360.96 2234.7h1.64v-107.92h-1.64zM364.25 2234.7h1.64v-107.92h-1.64zM367.54 2234.7h1.64v-115.02h-1.64z" fill="#4472C4"/>
<path d="M41.4 2234.7H370" stroke="#D2D2D2" stroke-width="1.3" fill="none"/>
<text x="29.9" y="2237.29" class="t" textLength="3.9" lengthAdjust="spacingAndGlyphs">0</text>
<text x="25.99" y="2223.09" class="t" textLength="7.81" lengthAdjust="spacingAndGlyphs">10</text>
<text x="25.99" y="2208.89" class="t" textLength="7.81" lengthAdjust="spacingAndGlyphs">20</text>
<text x="25.99" y="2194.69" class="t" textLength="7.81" lengthAdjust="spacingAndGlyphs">30</text>
<text x="25.99" y="2180.49" class="t" textLength="7.81" lengthAdjust="spacingAndGlyphs">40</text>
<text x="25.99" y="2166.29" class="t" textLength="7.81" lengthAdjust="spacingAndGlyphs">50</text>
<text x="25.99" y="2152.09" class="t" textLength="7.81" lengthAdjust="spacingAndGlyphs">60</text>
<text x="25.99" y="2137.89" class="t" textLength="7.81" lengthAdjust="spacingAndGlyphs">70</text>
<text x="25.99" y="2123.69" class="t" textLength="7.81" lengthAdjust="spacingAndGlyphs">80</text>
<text x="25.99" y="2109.49" class="t" textLength="7.81" lengthAdjust="spacingAndGlyphs">90</text>
<text x="35.7" y="2247.92" class="t" textLength="14.68" lengthAdjust="spacingAndGlyphs">1/22</text>
<text x="58.7" y="2247.92" class="t" textLength="14.68" lengthAdjust="spacingAndGlyphs">1/29</text>
<text x="83.66" y="2247.92" class="t" textLength="10.78" lengthAdjust="spacingAndGlyphs">2/5</text>
<text x="104.71" y="2247.92" class="t" textLength="14.68" lengthAdjust="spacingAndGlyphs">2/12</text>
<text x="127.71" y="2247.92" class="t" textLength="14.68" lengthAdjust="spacingAndGlyphs">2/19</text>
<text x="150.71" y="2247.92" class="t" textLength="14.68" lengthAdjust="spacingAndGlyphs">2/26</text>
<text x="175.67" y="2247.92" class="t" textLength="10.78" lengthAdjust="spacingAndGlyphs">3/4</text>
<text x="196.72" y="2247.92" class="t" textLength="14.68" lengthAdjust="spacingAndGlyphs">3/11</text>
<text x="219.72" y="2247.92" class="t" textLength="14.68" lengthAdjust="spacingAndGlyphs">3/18</text>
<text x="242.72" y="2247.92" class="t" textLength="14.68" lengthAdjust="spacingAndGlyphs">3/25</text>
<text x="267.67" y="2247.92" class="t" textLength="10.78" lengthAdjust="spacingAndGlyphs">4/1</text>
<text x="290.68" y="2247.92" class="t" textLength="10.78" lengthAdjust="spacingAndGlyphs">4/8</text>
<text x="311.73" y="2247.92" class="t" textLength="14.68" lengthAdjust="spacingAndGlyphs">4/15</text>
<text x="334.73" y="2247.92" class="t" textLength="14.68" lengthAdjust="spacingAndGlyphs">4/22</text>
<text x="357.73" y="2247.92" class="t" textLength="14.68" lengthAdjust="spacingAndGlyphs">4/29</text>
<text x="177.35" y="2263.45" class="a" textLength="16.3" lengthAdjust="spacingAndGlyphs">Date</text>
<text transform="translate(18.8 2171.6) rotate(-90)" x="-24.5" y="2.95" class="a" textLength="49" lengthAdjust="spacingAndGlyphs">Case Number</text>
<text x="119" y="2092.1" class="h" textLength="143.2" lengthAdjust="spacingAndGlyphs">Total Confirmed Cases (Haiti)</text>
<text transform="translate(4.25 2088.9) scale(1.0175 0.9832)" class="l">u</text>
<text transform="translate(24.37 2088.13) scale(0.7300 1.0076)" class="l2">)</text>
<path d="M441.8 2239.2H771.2M441.8 2217.9H771.2M441.8 2196.6H771.2M441.8 2175.3H771.2M441.8 2154H771.2M441.8 2132.7H771.2M441.8 2111.4H771.2" stroke="#D2D2D2" stroke-width="1.3" fill="none"/>
<path d="M441.8 2239.2v2.6M464.86 2239.2v2.6M487.92 2239.2v2.6M510.97 2239.2v2.6M534.03 2239.2v2.6M557.09 2239.2v2.6M580.15 2239.2v2.6M603.21 2239.2v2.6M626.26 2239.2v2.6M649.32 2239.2v2.6M672.38 2239.2v2.6M695.44 2239.2v2.6M718.5 2239.2v2.6M741.55 2239.2v2.6M764.61 2239.2v2.6" stroke="#D2D2D2" stroke-width="0.8" fill="none"/>
<path d="M633.68 2239.2h1.65v-21.3h-1.65zM643.56 2239.2h1.65v-42.6h-1.65zM646.85 2239.2h1.65v-10.65h-1.65zM650.15 2239.2h1.65v-10.65h-1.65zM663.32 2239.2h1.65v-74.55h-1.65zM673.2 2239.2h1.65v-10.65h-1.65zM679.79 2239.2h1.65v-21.3h-1.65zM683.09 2239.2h1.65v-21.3h-1.65zM686.38 2239.2h1.65v-10.65h-1.65zM689.67 2239.2h1.65v-31.95h-1.65zM692.97 2239.2h1.65v-10.65h-1.65zM696.26 2239.2h1.65v-21.3h-1.65zM699.56 2239.2h1.65v-31.95h-1.65zM702.85 2239.2h1.65v-10.65h-1.65zM706.14 2239.2h1.65v-21.3h-1.65zM712.73 2239.2h1.65v-74.55h-1.65zM719.32 2239.2h1.65v-10.65h-1.65zM725.91 2239.2h1.65v-21.3h-1.65zM729.2 2239.2h1.65v-10.65h-1.65zM732.5 2239.2h1.65v-31.95h-1.65zM735.79 2239.2h1.65v-106.5h-1.65zM742.38 2239.2h1.65v-53.25h-1.65zM745.67 2239.2h1.65v-106.5h-1.65zM755.55 2239.2h1.65v-21.3h-1.65zM758.85 2239.2h1.65v-21.3h-1.65zM768.73 2239.2h1.65v-53.25h-1.65z" fill="#4472C4"/>
<path d="M441.8 2239.2H771.2" stroke="#D2D2D2" stroke-width="1.3" fill="none"/>
<text x="431.2" y="2241.79" class="t" textLength="3.9" lengthAdjust="spacingAndGlyphs">0</text>
<text x="431.2" y="2220.49" class="t" textLength="3.9" lengthAdjust="spacingAndGlyphs">2</text>
<text x="431.2" y="2199.19" class="t" textLength="3.9" lengthAdjust="spacingAndGlyphs">4</text>
<text x="431.2" y="2177.89" class="t" textLength="3.9" lengthAdjust="spacingAndGlyphs">6</text>
<text x="431.2" y="2156.59" class="t" textLength="3.9" lengthAdjust="spacingAndGlyphs">8</text>
<text x="427.29" y="2135.29" class="t" textLength="7.81" lengthAdjust="spacingAndGlyphs">10</text>
<text x="427.29" y="2113.99" class="t" textLength="7.81" lengthAdjust="spacingAndGlyphs">12</text>
<text x="436.11" y="2252.22" class="t" textLength="14.68" lengthAdjust="spacingAndGlyphs">1/22</text>
<text x="459.16" y="2252.22" class="t" textLength="14.68" lengthAdjust="spacingAndGlyphs">1/29</text>
<text x="484.17" y="2252.22" class="t" textLength="10.78" lengthAdjust="spacingAndGlyphs">2/5</text>
<text x="505.28" y="2252.22" class="t" textLength="14.68" lengthAdjust="spacingAndGlyphs">2/12</text>
<text x="528.34" y="2252.22" class="t" textLength="14.68" lengthAdjust="spacingAndGlyphs">2/19</text>
<text x="551.4" y="2252.22" class="t" textLength="14.68" lengthAdjust="spacingAndGlyphs">2/26</text>
<text x="576.41" y="2252.22" class="t" textLength="10.78" lengthAdjust="spacingAndGlyphs">3/4</text>
<text x="597.51" y="2252.22" class="t" textLength="14.68" lengthAdjust="spacingAndGlyphs">3/11</text>
<text x="620.57" y="2252.22" class="t" textLength="14.68" lengthAdjust="spacingAndGlyphs">3/18</text>
<text x="643.63" y="2252.22" class="t" textLength="14.68" lengthAdjust="spacingAndGlyphs">3/25</text>
<text x="668.64" y="2252.22" class="t" textLength="10.78" lengthAdjust="spacingAndGlyphs">4/1</text>
<text x="691.7" y="2252.22" class="t" textLength="10.78" lengthAdjust="spacingAndGlyphs">4/8</text>
<text x="712.8" y="2252.22" class="t" textLength="14.68" lengthAdjust="spacingAndGlyphs">4/15</text>
<text x="735.86" y="2252.22" class="t" textLength="14.68" lengthAdjust="spacingAndGlyphs">4/22</text>
<text x="758.92" y="2252.22" class="t" textLength="14.68" lengthAdjust="spacingAndGlyphs">4/29</text>
<text x="581.15" y="2268.25" class="a" textLength="16.3" lengthAdjust="spacingAndGlyphs">Date</text>
<text transform="translate(419.5 2175.3) rotate(-90)" x="-24.5" y="2.95" class="a" textLength="49" lengthAdjust="spacingAndGlyphs">Case Number</text>
<text x="521" y="2096.3" class="h" textLength="142.2" lengthAdjust="spacingAndGlyphs">New Confirmed Cases (Haiti)</text>
<text transform="translate(408.7 2088.8) scale(0.9812 0.9586)" class="l">v</text>
<text transform="translate(426.37 2088.13) scale(0.7178 1.0076)" class="l2">)</text>
<path d="M37.6 2451.8H370.4M37.6 2437.53H370.4M37.6 2423.27H370.4M37.6 2409H370.4M37.6 2394.73H370.4M37.6 2380.47H370.4M37.6 2366.2H370.4M37.6 2351.93H370.4M37.6 2337.67H370.4M37.6 2323.4H370.4" stroke="#D2D2D2" stroke-width="1.3" fill="none"/>
<path d="M37.6 2451.8v2.6M60.9 2451.8v2.6M84.19 2451.8v2.6M107.49 2451.8v2.6M130.78 2451.8v2.6M154.08 2451.8v2.6M177.38 2451.8v2.6M200.67 2451.8v2.6M223.97 2451.8v2.6M247.26 2451.8v2.6M270.56 2451.8v2.6M293.86 2451.8v2.6M317.15 2451.8v2.6M340.45 2451.8v2.6M363.74 2451.8v2.6" stroke="#D2D2D2" stroke-width="0.8" fill="none"/>
<path d="M284.2 2451.8h2.66v-14.27h-2.66zM287.53 2451.8h2.66v-14.27h-2.66zM290.86 2451.8h2.66v-14.27h-2.66zM294.19 2451.8h2.66v-14.27h-2.66zM297.52 2451.8h2.66v-28.53h-2.66zM300.84 2451.8h2.66v-28.53h-2.66zM304.17 2451.8h2.66v-28.53h-2.66zM307.5 2451.8h2.66v-42.8h-2.66zM310.83 2451.8h2.66v-42.8h-2.66zM314.16 2451.8h2.66v-42.8h-2.66zM317.48 2451.8h2.66v-42.8h-2.66zM320.81 2451.8h2.66v-42.8h-2.66zM324.14 2451.8h2.66v-42.8h-2.66zM327.47 2451.8h2.66v-42.8h-2.66zM330.8 2451.8h2.66v-42.8h-2.66zM334.12 2451.8h2.66v-42.8h-2.66zM337.45 2451.8h2.66v-42.8h-2.66zM340.78 2451.8h2.66v-57.07h-2.66zM344.11 2451.8h2.66v-71.33h-2.66zM347.44 2451.8h2.66v-71.33h-2.66zM350.76 2451.8h2.66v-85.6h-2.66zM354.09 2451.8h2.66v-85.6h-2.66zM357.42 2451.8h2.66v-85.6h-2.66zM360.75 2451.8h2.66v-85.6h-2.66zM364.08 2451.8h2.66v-85.6h-2.66zM367.4 2451.8h2.66v-114.13h-2.66z" fill="#FF0000"/>
<path d="M37.6 2451.8H370.4" stroke="#D2D2D2" stroke-width="1.3" fill="none"/>
<text x="26.2" y="2454.39" class="t" textLength="3.9" lengthAdjust="spacingAndGlyphs">0</text>
<text x="26.2" y="2440.13" class="t" textLength="3.9" lengthAdjust="spacingAndGlyphs">1</text>
<text x="26.2" y="2425.86" class="t" textLength="3.9" lengthAdjust="spacingAndGlyphs">2</text>
<text x="26.2" y="2411.59" class="t" textLength="3.9" lengthAdjust="spacingAndGlyphs">3</text>
<text x="26.2" y="2397.33" class="t" textLength="3.9" lengthAdjust="spacingAndGlyphs">4</text>
<text x="26.2" y="2383.06" class="t" textLength="3.9" lengthAdjust="spacingAndGlyphs">5</text>
<text x="26.2" y="2368.79" class="t" textLength="3.9" lengthAdjust="spacingAndGlyphs">6</text>
<text x="26.2" y="2354.53" class="t" textLength="3.9" lengthAdjust="spacingAndGlyphs">7</text>
<text x="26.2" y="2340.26" class="t" textLength="3.9" lengthAdjust="spacingAndGlyphs">8</text>
<text x="26.2" y="2325.99" class="t" textLength="3.9" lengthAdjust="spacingAndGlyphs">9</text>
<text x="31.92" y="2464.72" class="t" textLength="14.68" lengthAdjust="spacingAndGlyphs">1/22</text>
<text x="55.22" y="2464.72" class="t" textLength="14.68" lengthAdjust="spacingAndGlyphs">1/29</text>
<text x="80.47" y="2464.72" class="t" textLength="10.78" lengthAdjust="spacingAndGlyphs">2/5</text>
<text x="101.81" y="2464.72" class="t" textLength="14.68" lengthAdjust="spacingAndGlyphs">2/12</text>
<text x="125.11" y="2464.72" class="t" textLength="14.68" lengthAdjust="spacingAndGlyphs">2/19</text>
<text x="148.4" y="2464.72" class="t" textLength="14.68" lengthAdjust="spacingAndGlyphs">2/26</text>
<text x="173.65" y="2464.72" class="t" textLength="10.78" lengthAdjust="spacingAndGlyphs">3/4</text>
<text x="194.99" y="2464.72" class="t" textLength="14.68" lengthAdjust="spacingAndGlyphs">3/11</text>
<text x="218.29" y="2464.72" class="t" textLength="14.68" lengthAdjust="spacingAndGlyphs">3/18</text>
<text x="241.59" y="2464.72" class="t" textLength="14.68" lengthAdjust="spacingAndGlyphs">3/25</text>
<text x="266.83" y="2464.72" class="t" textLength="10.78" lengthAdjust="spacingAndGlyphs">4/1</text>
<text x="290.13" y="2464.72" class="t" textLength="10.78" lengthAdjust="spacingAndGlyphs">4/8</text>
<text x="311.47" y="2464.72" class="t" textLength="14.68" lengthAdjust="spacingAndGlyphs">4/15</text>
<text x="334.77" y="2464.72" class="t" textLength="14.68" lengthAdjust="spacingAndGlyphs">4/22</text>
<text x="358.07" y="2464.72" class="t" textLength="14.68" lengthAdjust="spacingAndGlyphs">4/29</text>
<text x="181.65" y="2481.05" class="a" textLength="16.3" lengthAdjust="spacingAndGlyphs">Date</text>
<text transform="translate(18.8 2387.8) rotate(-90)" x="-24.5" y="2.95" class="a" textLength="49" lengthAdjust="spacingAndGlyphs">Case Number</text>
<text x="143.4" y="2308.8" class="h" textLength="94.7" lengthAdjust="spacingAndGlyphs">Total Deaths (Haiti)</text>
<text transform="translate(3.45 2304.1) scale(1.0174 0.9769)" class="l">w</text>
<text transform="translate(29.27 2303.13) scale(0.7178 1.0076)" class="l2">)</text>
<path d="M439.6 2449.7H771.3M439.6 2406.93H771.3M439.6 2364.17H771.3M439.6 2321.4H771.3" stroke="#D2D2D2" stroke-width="1.3" fill="none"/>
<path d="M439.6 2449.7v2.6M462.82 2449.7v2.6M486.04 2449.7v2.6M509.26 2449.7v2.6M532.48 2449.7v2.6M555.69 2449.7v2.6M578.91 2449.7v2.6M602.13 2449.7v2.6M625.35 2449.7v2.6M648.57 2449.7v2.6M671.79 2449.7v2.6M695.01 2449.7v2.6M718.23 2449.7v2.6M741.45 2449.7v2.6M764.67 2449.7v2.6" stroke="#D2D2D2" stroke-width="0.8" fill="none"/>
<path d="M685.39 2449.7h2.65v-42.77h-2.65zM698.66 2449.7h2.65v-42.77h-2.65zM708.61 2449.7h2.65v-42.77h-2.65zM741.78 2449.7h2.65v-42.77h-2.65zM745.1 2449.7h2.65v-42.77h-2.65zM751.73 2449.7h2.65v-42.77h-2.65zM768.31 2449.7h2.65v-85.53h-2.65z" fill="#FF0000"/>
<path d="M439.6 2449.7H771.3" stroke="#D2D2D2" stroke-width="1.3" fill="none"/>
<text x="428.2" y="2452.29" class="t" textLength="3.9" lengthAdjust="spacingAndGlyphs">0</text>
<text x="428.2" y="2409.53" class="t" textLength="3.9" lengthAdjust="spacingAndGlyphs">1</text>
<text x="428.2" y="2366.76" class="t" textLength="3.9" lengthAdjust="spacingAndGlyphs">2</text>
<text x="428.2" y="2323.99" class="t" textLength="3.9" lengthAdjust="spacingAndGlyphs">3</text>
<text x="433.92" y="2462.22" class="t" textLength="14.68" lengthAdjust="spacingAndGlyphs">1/22</text>
<text x="457.14" y="2462.22" class="t" textLength="14.68" lengthAdjust="spacingAndGlyphs">1/29</text>
<text x="482.31" y="2462.22" class="t" textLength="10.78" lengthAdjust="spacingAndGlyphs">2/5</text>
<text x="503.57" y="2462.22" class="t" textLength="14.68" lengthAdjust="spacingAndGlyphs">2/12</text>
<text x="526.79" y="2462.22" class="t" textLength="14.68" lengthAdjust="spacingAndGlyphs">2/19</text>
<text x="550.01" y="2462.22" class="t" textLength="14.68" lengthAdjust="spacingAndGlyphs">2/26</text>
<text x="575.18" y="2462.22" class="t" textLength="10.78" lengthAdjust="spacingAndGlyphs">3/4</text>
<text x="596.45" y="2462.22" class="t" textLength="14.68" lengthAdjust="spacingAndGlyphs">3/11</text>
<text x="619.67" y="2462.22" class="t" textLength="14.68" lengthAdjust="spacingAndGlyphs">3/18</text>
<text x="642.89" y="2462.22" class="t" textLength="14.68" lengthAdjust="spacingAndGlyphs">3/25</text>
<text x="668.06" y="2462.22" class="t" textLength="10.78" lengthAdjust="spacingAndGlyphs">4/1</text>
<text x="691.28" y="2462.22" class="t" textLength="10.78" lengthAdjust="spacingAndGlyphs">4/8</text>
<text x="712.54" y="2462.22" class="t" textLength="14.68" lengthAdjust="spacingAndGlyphs">4/15</text>
<text x="735.76" y="2462.22" class="t" textLength="14.68" lengthAdjust="spacingAndGlyphs">4/22</text>
<text x="758.98" y="2462.22" class="t" textLength="14.68" lengthAdjust="spacingAndGlyphs">4/29</text>
<text x="582.95" y="2478.55" class="a" textLength="16.3" lengthAdjust="spacingAndGlyphs">Date</text>
<text transform="translate(421.3 2385.3) rotate(-90)" x="-24.5" y="2.95" class="a" textLength="49" lengthAdjust="spacingAndGlyphs">Case Number</text>
<text x="545.9" y="2306.3" class="h" textLength="93" lengthAdjust="spacingAndGlyphs">New Deaths (Haiti)</text>
<text transform="translate(408.48 2304.1) scale(0.9110 0.9769)" class="l">x</text>
<text transform="translate(425.47 2303.13) scale(0.7178 1.0076)" class="l2">)</text>
</svg>
</body></html>
